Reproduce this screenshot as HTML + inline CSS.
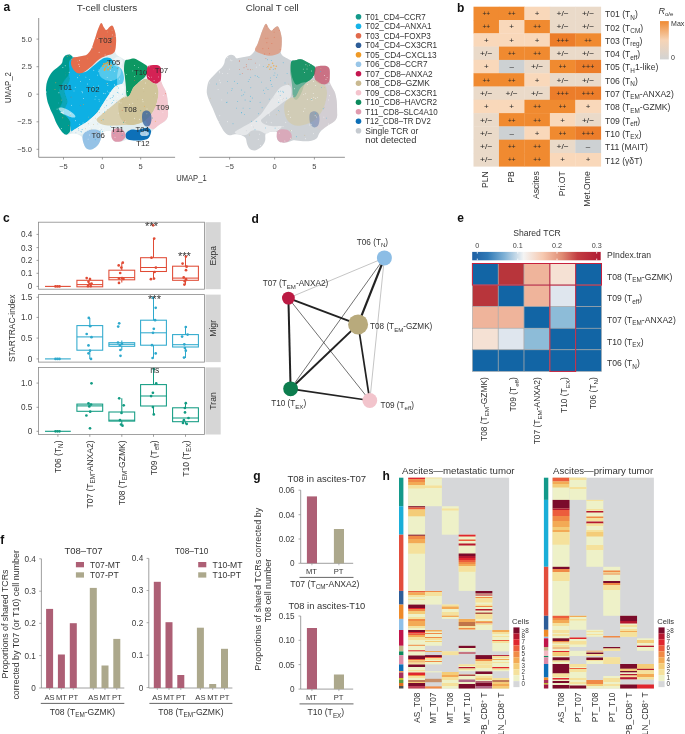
<!DOCTYPE html>
<html><head><meta charset="utf-8"><style>
html,body{margin:0;padding:0;background:#fff;}
svg{display:block;will-change:transform;font-family:"Liberation Sans", sans-serif;}
</style></head><body>
<svg width="685" height="734" viewBox="0 0 685 734">
<rect width="685" height="734" fill="#fff"/>
<text x="3.4" y="10.6" font-size="12" fill="#111" font-weight="bold">a</text>
<text x="457.1" y="11.9" font-size="12" fill="#111" font-weight="bold">b</text>
<text x="3.1" y="222" font-size="12" fill="#111" font-weight="bold">c</text>
<text x="251.6" y="222.7" font-size="12" fill="#111" font-weight="bold">d</text>
<text x="457.3" y="222.2" font-size="12" fill="#111" font-weight="bold">e</text>
<text x="0.3" y="544.1" font-size="12" fill="#111" font-weight="bold">f</text>
<text x="253.2" y="479.6" font-size="12" fill="#111" font-weight="bold">g</text>
<text x="382.4" y="479.9" font-size="12" fill="#111" font-weight="bold">h</text>
<defs><filter id="bl" x="-5%" y="-5%" width="110%" height="110%"><feGaussianBlur stdDeviation="0.55"/></filter></defs>
<g filter="url(#bl)">
<path d="M45.8,92.0 C45.5,89.3 46.0,86.2 46.5,84.0 C47.0,81.8 47.6,80.5 48.5,79.0 C49.4,77.5 50.8,76.4 52.0,75.0 C53.2,73.6 54.7,71.9 56.0,70.5 C57.3,69.1 59.0,67.8 60.0,66.5 C61.0,65.2 61.7,63.8 62.2,62.5 C62.7,61.2 62.5,59.7 63.0,58.5 C63.5,57.3 64.6,56.0 65.5,55.2 C66.4,54.5 67.6,54.0 68.6,54.0 C69.6,54.0 70.7,54.4 71.5,55.0 C72.3,55.6 72.6,57.2 73.5,57.5 C74.4,57.8 75.6,57.2 77.0,57.0 C78.4,56.8 80.3,56.4 82.0,56.0 C83.7,55.6 85.5,55.6 87.0,54.5 C88.5,53.4 89.9,51.4 91.0,49.5 C92.1,47.6 92.7,45.3 93.5,43.0 C94.3,40.7 95.2,38.0 96.0,35.5 C96.8,33.0 97.6,30.1 98.5,28.0 C99.4,25.9 100.4,23.0 101.3,22.9 C102.2,22.8 103.1,26.3 104.0,27.5 C104.9,28.7 105.7,30.1 106.6,30.0 C107.5,29.9 108.5,27.7 109.5,27.0 C110.5,26.3 111.6,25.2 112.4,25.7 C113.2,26.2 113.9,28.1 114.5,30.0 C115.1,31.9 115.8,34.7 116.0,37.0 C116.2,39.3 116.2,41.7 116.0,44.0 C115.8,46.3 114.8,49.2 115.0,51.0 C115.2,52.8 116.0,53.9 117.0,55.0 C118.0,56.1 119.5,56.7 121.0,57.5 C122.5,58.3 124.3,59.8 126.0,60.0 C127.7,60.2 129.7,59.2 131.0,59.0 C132.3,58.8 132.9,58.3 134.0,58.5 C135.1,58.7 136.3,59.4 137.5,60.0 C138.7,60.6 139.8,61.2 141.0,62.0 C142.2,62.8 143.8,63.8 145.0,64.5 C146.2,65.2 146.7,65.9 148.0,66.0 C149.3,66.1 151.3,65.1 153.0,65.0 C154.7,64.9 156.7,64.8 158.0,65.3 C159.3,65.8 160.3,66.4 160.8,68.0 C161.3,69.6 161.2,72.8 161.2,75.0 C161.2,77.2 160.7,79.2 161.0,81.0 C161.3,82.8 162.2,84.2 163.0,86.0 C163.8,87.8 165.2,89.7 166.0,92.0 C166.8,94.3 167.3,97.0 167.6,100.0 C167.9,103.0 168.0,107.2 168.0,110.0 C168.0,112.8 168.3,114.7 167.8,116.5 C167.3,118.3 166.5,119.6 165.0,121.0 C163.5,122.4 160.8,123.7 159.0,125.0 C157.2,126.3 155.3,127.7 154.0,129.0 C152.7,130.3 151.8,131.6 151.0,133.0 C150.2,134.4 150.2,136.3 149.0,137.5 C147.8,138.7 146.2,139.5 144.0,140.0 C141.8,140.5 138.7,140.6 136.0,140.5 C133.3,140.4 129.8,139.6 128.0,139.5 C126.2,139.4 126.8,139.6 125.5,140.0 C124.2,140.4 121.9,141.6 120.0,141.8 C118.1,142.0 115.4,141.8 114.0,141.0 C112.6,140.2 111.9,138.6 111.5,137.0 C111.1,135.4 112.4,132.5 111.5,131.5 C110.6,130.5 107.8,130.8 106.0,131.0 C104.2,131.2 101.9,131.5 101.0,133.0 C100.1,134.5 101.2,137.8 100.5,140.0 C99.8,142.2 98.6,144.4 97.0,146.0 C95.4,147.6 92.8,149.3 91.0,149.6 C89.2,149.9 87.2,149.1 86.0,148.0 C84.8,146.9 84.2,144.8 83.5,143.0 C82.8,141.2 83.1,138.5 82.0,137.0 C80.9,135.5 78.7,134.6 77.0,134.0 C75.3,133.4 73.7,133.4 72.0,133.5 C70.3,133.6 68.5,134.8 67.0,134.5 C65.5,134.2 64.3,133.5 63.0,132.0 C61.7,130.5 60.3,128.0 59.0,125.5 C57.7,123.0 56.2,119.9 55.0,117.0 C53.8,114.1 52.7,110.8 51.5,108.0 C50.3,105.2 49.0,102.7 48.0,100.0 C47.0,97.3 46.0,94.7 45.8,92.0Z" fill="#dfecef"/>
<path d="M72.7,57.4 C74.0,57.1 75.1,57.9 76.0,60.0 C76.9,62.1 76.5,68.0 78.0,70.0 C79.5,72.0 82.7,72.5 85.0,72.0 C87.3,71.5 89.8,68.7 92.0,67.0 C94.2,65.3 96.0,63.5 98.0,62.0 C100.0,60.5 102.0,58.7 104.0,58.0 C106.0,57.3 108.3,57.3 110.0,58.0 C111.7,58.7 112.7,60.7 114.0,62.0 C115.3,63.3 116.7,64.7 118.0,66.0 C119.3,67.3 121.0,68.0 122.0,70.0 C123.0,72.0 124.0,75.7 124.0,78.0 C124.0,80.3 123.3,82.7 122.0,84.0 C120.7,85.3 117.7,85.0 116.0,86.0 C114.3,87.0 113.2,88.5 112.0,90.0 C110.8,91.5 109.7,93.5 108.5,95.3 C107.3,97.0 106.3,98.5 105.0,100.5 C103.7,102.5 102.0,105.3 100.6,107.5 C99.1,109.7 98.5,111.3 96.3,113.6 C94.1,115.9 90.4,119.3 87.5,121.5 C84.6,123.7 81.4,125.1 78.8,126.8 C76.2,128.5 73.5,131.6 72.0,131.5 C70.5,131.4 71.3,128.9 70.0,126.0 C68.7,123.1 66.0,117.0 64.0,114.0 C62.0,111.0 59.0,110.3 58.0,108.0 C57.0,105.7 58.0,103.0 58.0,100.0 C58.0,97.0 57.7,93.0 58.0,90.0 C58.3,87.0 59.2,84.5 60.0,82.0 C60.8,79.5 62.0,77.7 63.0,75.0 C64.0,72.3 65.1,68.2 66.0,66.0 C66.9,63.8 67.3,63.4 68.4,62.0 C69.5,60.6 71.4,57.7 72.7,57.4Z" fill="#0ab0e4"/>
<path d="M72.0,131.5 C72.3,130.3 76.2,128.5 78.8,126.8 C81.4,125.1 84.6,123.7 87.5,121.5 C90.4,119.3 94.1,115.9 96.3,113.6 C98.5,111.3 99.1,109.7 100.6,107.5 C102.0,105.3 103.7,102.5 105.0,100.5 C106.3,98.5 107.3,97.0 108.5,95.3 C109.7,93.5 110.8,91.5 112.0,90.0 C113.2,88.5 114.3,87.0 116.0,86.0 C117.7,85.0 120.5,83.7 122.0,84.0 C123.5,84.3 124.7,85.8 125.0,88.0 C125.3,90.2 125.2,94.8 124.0,97.0 C122.8,99.2 120.0,99.5 118.0,101.0 C116.0,102.5 114.0,104.3 112.0,106.0 C110.0,107.7 108.0,109.3 106.0,111.0 C104.0,112.7 101.6,114.5 100.0,116.0 C98.4,117.5 96.3,118.7 96.5,120.0 C96.7,121.3 99.1,123.1 101.0,124.0 C102.9,124.9 105.5,125.2 108.0,125.5 C110.5,125.8 115.3,124.8 116.0,125.5 C116.7,126.2 113.7,129.1 112.0,130.0 C110.3,130.9 107.8,130.5 106.0,131.0 C104.2,131.5 102.8,133.2 101.0,133.0 C99.2,132.8 97.2,130.5 95.0,130.0 C92.8,129.5 90.0,129.3 88.0,130.0 C86.0,130.7 84.8,133.3 83.0,134.0 C81.2,134.7 78.8,134.4 77.0,134.0 C75.2,133.6 71.7,132.7 72.0,131.5Z" fill="#ecf4f5"/>
<path d="M68.4,75.0 C70.0,75.8 69.8,78.9 69.5,80.7 C69.2,82.5 67.3,84.4 66.5,86.0 C65.7,87.6 64.6,88.8 64.5,90.5 C64.4,92.2 65.3,94.2 65.8,96.0 C66.3,97.8 67.5,99.7 67.5,101.5 C67.5,103.3 66.2,105.4 65.5,107.0 C64.8,108.6 65.1,110.3 63.5,111.0 C61.9,111.7 57.6,114.5 56.0,111.0 C54.4,107.5 53.3,95.8 54.0,90.0 C54.7,84.2 57.6,78.5 60.0,76.0 C62.4,73.5 66.8,74.2 68.4,75.0Z" fill="#07a6b8"/>
<path d="M65.3,55.5 C64.4,56.2 63.5,57.8 63.0,59.0 C62.5,60.2 62.8,61.7 62.0,63.0 C61.2,64.3 59.5,65.7 58.0,67.0 C56.5,68.3 54.3,69.7 53.0,71.0 C51.7,72.3 50.8,73.7 50.0,75.0 C49.2,76.3 48.6,77.5 48.0,79.0 C47.4,80.5 46.8,82.2 46.5,84.0 C46.2,85.8 46.0,88.0 46.0,90.0 C46.0,92.0 46.2,94.1 46.5,96.0 C46.8,97.9 47.0,99.7 47.5,101.5 C48.0,103.3 48.9,105.4 49.5,107.0 C50.1,108.6 50.5,109.8 51.2,111.3 C51.9,112.8 52.8,114.3 53.5,116.0 C54.2,117.7 54.8,119.5 55.5,121.2 C56.2,122.9 57.2,124.6 58.0,126.0 C58.8,127.4 59.6,128.6 60.4,129.8 C61.2,131.0 62.0,132.2 63.0,133.0 C64.0,133.8 65.3,135.0 66.5,134.7 C67.7,134.4 69.6,132.6 70.2,131.0 C70.8,129.4 70.2,126.6 70.2,125.0 C70.2,123.4 70.7,122.7 70.0,121.2 C69.3,119.7 67.8,117.7 66.0,116.0 C64.2,114.3 60.2,112.8 59.2,111.3 C58.2,109.8 59.5,108.6 60.0,107.0 C60.5,105.4 62.1,103.3 62.2,101.5 C62.3,99.7 61.0,97.8 60.5,96.0 C60.0,94.2 59.1,92.2 59.2,90.5 C59.3,88.8 60.2,87.6 61.0,86.0 C61.8,84.4 62.8,82.5 64.0,80.7 C65.2,78.9 67.5,76.8 68.4,75.0 C69.3,73.2 69.4,71.7 69.5,70.0 C69.6,68.3 69.0,66.5 69.0,65.0 C69.0,63.5 68.9,62.3 69.5,61.0 C70.1,59.7 72.5,58.4 72.7,57.4 C72.9,56.4 71.2,55.5 70.5,55.0 C69.8,54.5 69.3,54.6 68.4,54.7 C67.5,54.8 66.2,54.8 65.3,55.5Z" fill="#069b90"/>
<path d="M71.5,60.0 C71.9,58.9 72.6,58.0 73.5,57.5 C74.4,57.0 75.6,57.2 77.0,57.0 C78.4,56.8 80.3,56.4 82.0,56.0 C83.7,55.6 85.5,55.6 87.0,54.5 C88.5,53.4 89.9,51.4 91.0,49.5 C92.1,47.6 92.7,45.3 93.5,43.0 C94.3,40.7 95.2,38.0 96.0,35.5 C96.8,33.0 97.6,30.1 98.5,28.0 C99.4,25.9 100.4,23.0 101.3,22.9 C102.2,22.8 103.1,26.3 104.0,27.5 C104.9,28.7 105.7,30.1 106.6,30.0 C107.5,29.9 108.5,27.7 109.5,27.0 C110.5,26.3 111.6,25.2 112.4,25.7 C113.2,26.2 113.9,28.1 114.5,30.0 C115.1,31.9 115.8,34.7 116.0,37.0 C116.2,39.3 116.2,41.7 116.0,44.0 C115.8,46.3 115.7,49.3 115.0,51.0 C114.3,52.7 113.3,53.2 112.0,54.0 C110.7,54.8 108.7,54.9 107.0,55.5 C105.3,56.1 103.7,56.6 102.0,57.5 C100.3,58.4 98.7,59.6 97.0,61.0 C95.3,62.4 93.7,64.5 92.0,66.0 C90.3,67.5 88.7,68.8 87.0,70.0 C85.3,71.2 83.7,72.5 82.0,73.0 C80.3,73.5 78.5,73.7 77.0,73.0 C75.5,72.3 74.0,70.5 73.0,69.0 C72.0,67.5 71.2,65.5 71.0,64.0 C70.8,62.5 71.1,61.1 71.5,60.0Z" fill="#e46d4e"/>
<path d="M125.0,61.0 C125.8,59.2 127.5,59.9 129.0,59.5 C130.5,59.1 132.6,58.4 134.0,58.5 C135.4,58.6 136.3,59.4 137.5,60.0 C138.7,60.6 139.8,61.2 141.0,62.0 C142.2,62.8 143.9,63.7 145.0,64.5 C146.1,65.3 147.2,65.6 147.5,67.0 C147.8,68.4 147.6,71.2 147.0,73.0 C146.4,74.8 145.2,76.7 144.0,78.0 C142.8,79.3 141.2,79.8 140.0,81.0 C138.8,82.2 137.8,83.3 137.0,85.0 C136.2,86.7 135.8,89.0 135.0,91.0 C134.2,93.0 133.0,95.7 132.0,97.0 C131.0,98.3 129.9,99.3 129.0,99.0 C128.1,98.7 127.0,97.0 126.5,95.0 C126.0,93.0 126.2,89.8 126.0,87.0 C125.8,84.2 125.3,80.8 125.0,78.0 C124.7,75.2 124.0,72.8 124.0,70.0 C124.0,67.2 124.2,62.8 125.0,61.0Z" fill="#0a9862"/>
<path d="M147.5,67.0 C148.1,65.6 149.1,65.8 150.0,65.5 C150.9,65.2 151.7,65.0 153.0,65.0 C154.3,65.0 156.7,64.8 158.0,65.3 C159.3,65.8 160.3,66.4 160.8,68.0 C161.3,69.6 161.2,72.8 161.2,75.0 C161.1,77.2 161.1,79.6 160.5,81.0 C159.9,82.4 158.9,83.2 157.5,83.5 C156.1,83.8 153.6,83.6 152.0,83.0 C150.4,82.4 148.9,81.5 148.0,80.0 C147.1,78.5 146.6,76.2 146.5,74.0 C146.4,71.8 146.9,68.4 147.5,67.0Z" fill="#d42054"/>
<path d="M133.0,88.0 C134.3,86.0 135.7,85.2 137.0,84.0 C138.3,82.8 139.7,81.8 141.0,81.0 C142.3,80.2 143.7,79.2 145.0,79.0 C146.3,78.8 147.7,79.3 149.0,80.0 C150.3,80.7 151.7,82.2 153.0,83.0 C154.3,83.8 156.1,83.5 157.0,85.0 C157.9,86.5 158.5,89.2 158.5,92.0 C158.5,94.8 157.8,99.0 157.0,102.0 C156.2,105.0 155.2,107.7 154.0,110.0 C152.8,112.3 151.3,114.3 150.0,116.0 C148.7,117.7 147.8,118.8 146.0,120.0 C144.2,121.2 141.5,122.7 139.0,123.5 C136.5,124.3 133.5,124.8 131.0,125.0 C128.5,125.2 126.5,124.9 124.0,125.0 C121.5,125.1 118.7,125.4 116.0,125.5 C113.3,125.6 110.5,125.8 108.0,125.5 C105.5,125.2 102.9,124.9 101.0,124.0 C99.1,123.1 96.7,121.3 96.5,120.0 C96.3,118.7 98.4,117.5 100.0,116.0 C101.6,114.5 104.0,112.7 106.0,111.0 C108.0,109.3 110.0,107.7 112.0,106.0 C114.0,104.3 116.0,102.5 118.0,101.0 C120.0,99.5 122.2,97.8 124.0,97.0 C125.8,96.2 127.5,97.5 129.0,96.0 C130.5,94.5 131.7,90.0 133.0,88.0Z" fill="#d8cfae"/>
<path d="M133.0,88.0 C134.3,86.0 135.7,85.2 137.0,84.0 C138.3,82.8 139.7,81.8 141.0,81.0 C142.3,80.2 143.7,79.2 145.0,79.0 C146.3,78.8 147.7,79.3 149.0,80.0 C150.3,80.7 151.7,82.2 153.0,83.0 C154.3,83.8 156.1,83.5 157.0,85.0 C157.9,86.5 158.5,89.2 158.5,92.0 C158.5,94.8 157.8,99.0 157.0,102.0 C156.2,105.0 155.2,107.7 154.0,110.0 C152.8,112.3 151.3,114.3 150.0,116.0 C148.7,117.7 147.8,118.8 146.0,120.0 C144.2,121.2 141.5,122.7 139.0,123.5 C136.5,124.3 133.3,125.1 131.0,125.0 C128.7,124.9 126.8,124.2 125.0,123.0 C123.2,121.8 121.6,120.2 120.5,118.0 C119.4,115.8 118.8,112.7 118.5,110.0 C118.2,107.3 118.1,104.2 119.0,102.0 C119.9,99.8 122.3,98.0 124.0,97.0 C125.7,96.0 127.5,97.5 129.0,96.0 C130.5,94.5 131.7,90.0 133.0,88.0Z" fill="#cfc49a"/>
<path d="M157.0,84.5 C157.3,82.7 159.8,81.6 160.5,81.0 C161.2,80.4 160.6,80.2 161.0,81.0 C161.4,81.8 162.2,84.2 163.0,86.0 C163.8,87.8 165.2,89.7 166.0,92.0 C166.8,94.3 167.3,97.0 167.6,100.0 C167.9,103.0 168.0,107.2 168.0,110.0 C168.0,112.8 168.3,114.7 167.8,116.5 C167.3,118.3 166.5,119.6 165.0,121.0 C163.5,122.4 160.8,123.7 159.0,125.0 C157.2,126.3 155.5,128.5 154.0,129.0 C152.5,129.5 151.2,128.8 150.0,128.0 C148.8,127.2 147.7,125.3 147.0,124.0 C146.3,122.7 145.5,121.3 146.0,120.0 C146.5,118.7 148.7,117.7 150.0,116.0 C151.3,114.3 152.8,112.3 154.0,110.0 C155.2,107.7 156.2,105.0 157.0,102.0 C157.8,99.0 158.5,94.9 158.5,92.0 C158.5,89.1 156.7,86.3 157.0,84.5Z" fill="#f4c8d0"/>
<path d="M143.0,112.0 C143.8,110.9 145.8,110.3 147.0,110.5 C148.2,110.7 149.8,111.6 150.5,113.0 C151.2,114.4 151.6,117.0 151.5,119.0 C151.4,121.0 150.9,123.8 150.0,125.0 C149.1,126.2 147.2,126.8 146.0,126.5 C144.8,126.2 143.7,124.6 143.0,123.0 C142.3,121.4 142.0,118.8 142.0,117.0 C142.0,115.2 142.2,113.1 143.0,112.0Z" fill="#2e5e9c" opacity="0.75"/>
<path d="M127.0,132.0 C128.1,130.9 130.2,129.8 132.0,129.5 C133.8,129.2 136.2,130.2 138.0,130.0 C139.8,129.8 141.3,128.8 143.0,128.5 C144.7,128.2 146.7,127.6 148.0,128.0 C149.3,128.4 150.8,129.4 151.0,131.0 C151.2,132.6 150.2,136.0 149.0,137.5 C147.8,139.0 146.2,139.5 144.0,140.0 C141.8,140.5 138.7,140.6 136.0,140.5 C133.3,140.4 129.8,140.2 128.0,139.5 C126.2,138.8 125.7,137.2 125.5,136.0 C125.3,134.8 125.9,133.1 127.0,132.0Z" fill="#0c70b8"/>
<path d="M112.0,130.5 C112.8,129.1 114.5,128.8 116.0,128.5 C117.5,128.2 119.6,128.4 121.0,129.0 C122.4,129.6 123.8,130.8 124.5,132.0 C125.2,133.2 125.8,135.2 125.5,136.5 C125.2,137.8 124.1,139.1 123.0,140.0 C121.9,140.9 120.5,141.6 119.0,141.8 C117.5,142.0 115.2,141.8 114.0,141.0 C112.8,140.2 111.8,138.8 111.5,137.0 C111.2,135.2 111.2,131.9 112.0,130.5Z" fill="#de98ac"/>
<path d="M83.5,134.0 C84.4,132.8 86.2,131.2 88.0,130.5 C89.8,129.8 92.2,129.5 94.0,129.5 C95.8,129.5 97.8,129.8 99.0,130.5 C100.2,131.2 100.8,132.4 101.0,134.0 C101.2,135.6 101.2,138.0 100.5,140.0 C99.8,142.0 98.6,144.4 97.0,146.0 C95.4,147.6 92.8,149.3 91.0,149.6 C89.2,149.9 87.2,149.1 86.0,148.0 C84.8,146.9 84.1,144.7 83.5,143.0 C82.9,141.3 82.5,139.5 82.5,138.0 C82.5,136.5 82.6,135.2 83.5,134.0Z" fill="#95c2e6"/>
<ellipse cx="67" cy="112.5" rx="9.5" ry="2.8" fill="#fff" opacity="0.6" transform="rotate(28 67 112.5)"/>
<ellipse cx="110" cy="72" rx="11" ry="9" fill="#fff" opacity="0.3"/>
<ellipse cx="121" cy="80" rx="4" ry="14" fill="#fff" opacity="0.35"/>
<circle cx="104" cy="64" r="0.9" fill="#eda43a"/>
<circle cx="106" cy="66.5" r="0.9" fill="#eda43a"/>
<circle cx="108.5" cy="65" r="0.9" fill="#eda43a"/>
<circle cx="110" cy="68" r="0.9" fill="#eda43a"/>
<circle cx="105" cy="68.5" r="0.9" fill="#eda43a"/>
<circle cx="107.5" cy="62.5" r="0.9" fill="#eda43a"/>
<circle cx="111" cy="65.5" r="0.9" fill="#eda43a"/>
<circle cx="103" cy="66" r="0.9" fill="#eda43a"/>
<circle cx="108" cy="69.5" r="0.9" fill="#eda43a"/>
<circle cx="106" cy="63.5" r="0.9" fill="#eda43a"/>
<circle cx="109.5" cy="63" r="0.9" fill="#eda43a"/>
<circle cx="104.5" cy="70" r="0.9" fill="#eda43a"/>
<ellipse cx="118" cy="62" rx="5" ry="5" fill="#fff" opacity="0.45"/>
<ellipse cx="144.5" cy="133.5" rx="4.5" ry="2.6" fill="#fff" opacity="0.65"/>
<circle cx="119.5" cy="102.1" r="0.45" fill="#ffffff"/><circle cx="117.9" cy="60.6" r="0.45" fill="#ffffff"/><circle cx="93.4" cy="124.5" r="0.45" fill="#cbbb8e"/><circle cx="167.9" cy="107.9" r="0.45" fill="#e2684a"/><circle cx="144.1" cy="74.5" r="0.45" fill="#e2684a"/><circle cx="97.4" cy="75.1" r="0.45" fill="#ffffff"/><circle cx="117.3" cy="92.5" r="0.45" fill="#1db1e6"/><circle cx="109.1" cy="92.2" r="0.45" fill="#ffffff"/><circle cx="95.9" cy="96.2" r="0.45" fill="#ffffff"/><circle cx="121.0" cy="102.9" r="0.45" fill="#ffffff"/><circle cx="91.1" cy="120.9" r="0.45" fill="#ffffff"/><circle cx="106.5" cy="105.7" r="0.45" fill="#1db1e6"/><circle cx="85.7" cy="128.7" r="0.45" fill="#cbbb8e"/><circle cx="86.5" cy="128.0" r="0.45" fill="#ffffff"/><circle cx="95.2" cy="139.8" r="0.45" fill="#1db1e6"/><circle cx="103.7" cy="128.6" r="0.45" fill="#ffffff"/><circle cx="110.8" cy="126.6" r="0.45" fill="#1db1e6"/><circle cx="122.6" cy="132.4" r="0.45" fill="#ffffff"/><circle cx="117.3" cy="68.2" r="0.45" fill="#e2684a"/><circle cx="97.6" cy="38.3" r="0.45" fill="#ffffff"/><circle cx="111.7" cy="103.5" r="0.45" fill="#95c2e6"/><circle cx="113.9" cy="133.4" r="0.45" fill="#1db1e6"/><circle cx="110.3" cy="70.2" r="0.45" fill="#ffffff"/><circle cx="86.7" cy="131.1" r="0.45" fill="#ffffff"/><circle cx="79.6" cy="60.3" r="0.45" fill="#ffffff"/><circle cx="159.5" cy="109.8" r="0.45" fill="#14998a"/><circle cx="67.3" cy="56.2" r="0.45" fill="#eba33a"/><circle cx="141.9" cy="134.9" r="0.45" fill="#ffffff"/><circle cx="125.0" cy="121.5" r="0.45" fill="#ffffff"/><circle cx="155.3" cy="121.3" r="0.45" fill="#eba33a"/><circle cx="75.9" cy="132.7" r="0.45" fill="#95c2e6"/><circle cx="114.8" cy="89.3" r="0.45" fill="#ffffff"/><circle cx="155.2" cy="105.9" r="0.45" fill="#eba33a"/><circle cx="118.7" cy="93.0" r="0.45" fill="#95c2e6"/><circle cx="113.2" cy="95.7" r="0.45" fill="#1db1e6"/><circle cx="88.1" cy="130.4" r="0.45" fill="#ffffff"/><circle cx="96.1" cy="117.1" r="0.45" fill="#ffffff"/><circle cx="143.8" cy="91.7" r="0.45" fill="#cbbb8e"/><circle cx="143.0" cy="101.8" r="0.45" fill="#ffffff"/><circle cx="110.2" cy="98.3" r="0.45" fill="#1db1e6"/><circle cx="117.1" cy="86.5" r="0.45" fill="#cbbb8e"/><circle cx="105.3" cy="29.6" r="0.45" fill="#ffffff"/><circle cx="55.8" cy="82.7" r="0.45" fill="#eba33a"/><circle cx="105.1" cy="93.8" r="0.45" fill="#ffffff"/><circle cx="57.1" cy="109.1" r="0.45" fill="#ffffff"/><circle cx="106.9" cy="83.7" r="0.45" fill="#eba33a"/><circle cx="63.2" cy="113.0" r="0.45" fill="#ffffff"/><circle cx="115.1" cy="36.1" r="0.45" fill="#ffffff"/><circle cx="124.6" cy="97.0" r="0.45" fill="#ffffff"/><circle cx="110.9" cy="46.1" r="0.45" fill="#1db1e6"/><circle cx="118.8" cy="131.9" r="0.45" fill="#ffffff"/><circle cx="104.7" cy="107.6" r="0.45" fill="#95c2e6"/><circle cx="119.4" cy="79.0" r="0.45" fill="#ffffff"/><circle cx="87.3" cy="84.0" r="0.45" fill="#ffffff"/><circle cx="85.9" cy="77.1" r="0.45" fill="#ffffff"/><circle cx="153.5" cy="69.7" r="0.45" fill="#e2684a"/><circle cx="134.4" cy="65.5" r="0.45" fill="#ffffff"/><circle cx="95.6" cy="118.1" r="0.45" fill="#cbbb8e"/><circle cx="102.4" cy="107.2" r="0.45" fill="#ffffff"/><circle cx="61.4" cy="128.5" r="0.45" fill="#ffffff"/><circle cx="83.6" cy="98.5" r="0.45" fill="#ffffff"/><circle cx="77.5" cy="77.7" r="0.45" fill="#ffffff"/><circle cx="58.4" cy="102.9" r="0.45" fill="#1db1e6"/><circle cx="65.8" cy="84.3" r="0.45" fill="#cbbb8e"/><circle cx="146.8" cy="134.0" r="0.45" fill="#ffffff"/><circle cx="88.1" cy="139.1" r="0.45" fill="#ffffff"/><circle cx="104.6" cy="112.0" r="0.45" fill="#1db1e6"/><circle cx="81.6" cy="131.9" r="0.45" fill="#1db1e6"/><circle cx="95.2" cy="133.7" r="0.45" fill="#ffffff"/><circle cx="99.2" cy="101.1" r="0.45" fill="#ffffff"/><circle cx="153.4" cy="96.8" r="0.45" fill="#cbbb8e"/><circle cx="70.1" cy="77.7" r="0.45" fill="#1db1e6"/><circle cx="99.2" cy="109.4" r="0.45" fill="#14998a"/><circle cx="82.3" cy="92.7" r="0.45" fill="#ffffff"/><circle cx="97.8" cy="123.9" r="0.45" fill="#95c2e6"/><circle cx="69.2" cy="72.2" r="0.45" fill="#ffffff"/><circle cx="102.6" cy="131.7" r="0.45" fill="#1db1e6"/><circle cx="117.5" cy="96.5" r="0.45" fill="#ffffff"/><circle cx="93.6" cy="49.1" r="0.45" fill="#1db1e6"/><circle cx="79.6" cy="66.2" r="0.45" fill="#ffffff"/><circle cx="111.0" cy="80.5" r="0.45" fill="#ffffff"/><circle cx="96.4" cy="132.6" r="0.45" fill="#e2684a"/><circle cx="114.3" cy="71.3" r="0.45" fill="#ffffff"/><circle cx="65.6" cy="72.5" r="0.45" fill="#14998a"/><circle cx="119.8" cy="111.8" r="0.45" fill="#cbbb8e"/><circle cx="58.9" cy="92.7" r="0.45" fill="#ffffff"/><circle cx="122.5" cy="94.1" r="0.45" fill="#1db1e6"/><circle cx="122.1" cy="135.2" r="0.45" fill="#1db1e6"/><circle cx="99.1" cy="52.3" r="0.45" fill="#ffffff"/><circle cx="107.5" cy="83.4" r="0.45" fill="#ffffff"/><circle cx="81.6" cy="131.4" r="0.45" fill="#95c2e6"/><circle cx="117.1" cy="100.2" r="0.45" fill="#cbbb8e"/><circle cx="89.6" cy="126.5" r="0.45" fill="#ffffff"/><circle cx="92.9" cy="89.3" r="0.45" fill="#cbbb8e"/><circle cx="113.8" cy="100.4" r="0.45" fill="#1db1e6"/><circle cx="80.6" cy="131.5" r="0.45" fill="#95c2e6"/><circle cx="122.3" cy="87.8" r="0.45" fill="#ffffff"/><circle cx="111.8" cy="93.7" r="0.45" fill="#ffffff"/><circle cx="96.7" cy="121.0" r="0.45" fill="#ffffff"/><circle cx="137.4" cy="99.8" r="0.45" fill="#cbbb8e"/><circle cx="152.9" cy="66.0" r="0.45" fill="#e2684a"/><circle cx="155.5" cy="93.2" r="0.45" fill="#ffffff"/><circle cx="99.3" cy="112.5" r="0.45" fill="#cbbb8e"/><circle cx="104.3" cy="37.4" r="0.45" fill="#14998a"/><circle cx="78.8" cy="130.5" r="0.45" fill="#95c2e6"/><circle cx="103.1" cy="113.6" r="0.45" fill="#eba33a"/><circle cx="70.3" cy="113.6" r="0.45" fill="#ffffff"/><circle cx="71.1" cy="97.1" r="0.45" fill="#e2684a"/><circle cx="69.3" cy="55.6" r="0.45" fill="#eba33a"/><circle cx="123.6" cy="122.2" r="0.45" fill="#14998a"/><circle cx="108.9" cy="65.9" r="0.45" fill="#ffffff"/><circle cx="132.8" cy="103.2" r="0.45" fill="#ffffff"/><circle cx="77.4" cy="61.1" r="0.45" fill="#cbbb8e"/><circle cx="124.7" cy="121.0" r="0.45" fill="#e2684a"/><circle cx="121.9" cy="96.8" r="0.45" fill="#ffffff"/><circle cx="88.6" cy="117.1" r="0.45" fill="#cbbb8e"/><circle cx="92.1" cy="89.0" r="0.45" fill="#eba33a"/><circle cx="139.5" cy="119.3" r="0.45" fill="#ffffff"/><circle cx="114.6" cy="84.4" r="0.45" fill="#ffffff"/><circle cx="83.3" cy="126.2" r="0.45" fill="#ffffff"/><circle cx="75.6" cy="120.7" r="0.45" fill="#ffffff"/><circle cx="116.4" cy="102.2" r="0.45" fill="#95c2e6"/><circle cx="88.4" cy="90.3" r="0.45" fill="#ffffff"/><circle cx="93.3" cy="86.4" r="0.45" fill="#ffffff"/><circle cx="128.2" cy="130.5" r="0.45" fill="#cbbb8e"/><circle cx="154.6" cy="86.0" r="0.45" fill="#cbbb8e"/><circle cx="122.2" cy="99.5" r="0.45" fill="#eba33a"/><circle cx="95.0" cy="99.1" r="0.45" fill="#ffffff"/><circle cx="112.3" cy="102.4" r="0.45" fill="#1db1e6"/><circle cx="121.1" cy="62.4" r="0.45" fill="#ffffff"/><circle cx="151.7" cy="77.1" r="0.45" fill="#ffffff"/><circle cx="129.4" cy="104.5" r="0.45" fill="#ffffff"/><circle cx="78.9" cy="64.2" r="0.45" fill="#ffffff"/><circle cx="93.8" cy="70.2" r="0.45" fill="#ffffff"/><circle cx="98.4" cy="86.0" r="0.45" fill="#ffffff"/><circle cx="83.1" cy="123.0" r="0.45" fill="#ffffff"/><circle cx="91.7" cy="129.1" r="0.45" fill="#cbbb8e"/><circle cx="113.3" cy="102.0" r="0.45" fill="#ffffff"/><circle cx="83.5" cy="104.3" r="0.45" fill="#eba33a"/><circle cx="115.0" cy="137.3" r="0.45" fill="#ffffff"/><circle cx="145.3" cy="83.0" r="0.45" fill="#ffffff"/><circle cx="118.4" cy="88.0" r="0.45" fill="#1db1e6"/><circle cx="97.1" cy="112.9" r="0.45" fill="#cbbb8e"/><circle cx="79.7" cy="124.2" r="0.45" fill="#ffffff"/><circle cx="55.0" cy="89.5" r="0.45" fill="#eba33a"/><circle cx="142.5" cy="99.8" r="0.45" fill="#ffffff"/><circle cx="123.8" cy="87.9" r="0.45" fill="#ffffff"/><circle cx="99.0" cy="70.0" r="0.45" fill="#ffffff"/><circle cx="161.5" cy="105.5" r="0.45" fill="#cbbb8e"/><circle cx="103.5" cy="93.3" r="0.45" fill="#ffffff"/><circle cx="148.6" cy="76.3" r="0.45" fill="#ffffff"/><circle cx="162.9" cy="112.1" r="0.45" fill="#ffffff"/><circle cx="101.5" cy="129.4" r="0.45" fill="#95c2e6"/><circle cx="112.2" cy="97.5" r="0.45" fill="#1db1e6"/><circle cx="68.4" cy="125.4" r="0.45" fill="#e2684a"/><circle cx="154.1" cy="80.7" r="0.45" fill="#ffffff"/><circle cx="100.5" cy="130.9" r="0.45" fill="#1db1e6"/><circle cx="80.6" cy="81.6" r="0.45" fill="#ffffff"/><circle cx="76.0" cy="127.7" r="0.45" fill="#1db1e6"/><circle cx="99.5" cy="128.2" r="0.45" fill="#ffffff"/><circle cx="158.4" cy="76.9" r="0.45" fill="#ffffff"/><circle cx="134.6" cy="80.4" r="0.45" fill="#e2684a"/><circle cx="136.0" cy="120.8" r="0.45" fill="#cbbb8e"/><circle cx="107.5" cy="91.1" r="0.45" fill="#ffffff"/><circle cx="92.2" cy="47.7" r="0.45" fill="#ffffff"/><circle cx="134.6" cy="118.3" r="0.45" fill="#ffffff"/><circle cx="70.0" cy="115.7" r="0.45" fill="#eba33a"/><circle cx="112.3" cy="34.9" r="0.45" fill="#ffffff"/><circle cx="106.9" cy="100.4" r="0.45" fill="#95c2e6"/><circle cx="163.2" cy="95.5" r="0.45" fill="#ffffff"/><circle cx="107.5" cy="31.9" r="0.45" fill="#cbbb8e"/><circle cx="117.6" cy="100.8" r="0.45" fill="#ffffff"/><circle cx="107.4" cy="98.4" r="0.45" fill="#ffffff"/><circle cx="90.9" cy="121.0" r="0.45" fill="#ffffff"/><circle cx="107.2" cy="77.4" r="0.45" fill="#ffffff"/><circle cx="149.1" cy="66.7" r="0.45" fill="#ffffff"/><circle cx="94.5" cy="135.1" r="0.45" fill="#cbbb8e"/><circle cx="117.9" cy="94.7" r="0.45" fill="#ffffff"/><circle cx="101.3" cy="120.4" r="0.45" fill="#eba33a"/><circle cx="88.9" cy="111.9" r="0.45" fill="#1db1e6"/><circle cx="61.7" cy="100.1" r="0.45" fill="#cbbb8e"/><circle cx="107.3" cy="109.5" r="0.45" fill="#cbbb8e"/><circle cx="82.0" cy="91.3" r="0.45" fill="#ffffff"/><circle cx="71.7" cy="59.3" r="0.45" fill="#cbbb8e"/><circle cx="62.7" cy="117.8" r="0.45" fill="#eba33a"/><circle cx="105.1" cy="55.0" r="0.45" fill="#ffffff"/><circle cx="111.1" cy="96.4" r="0.45" fill="#ffffff"/><circle cx="80.3" cy="105.5" r="0.45" fill="#e2684a"/><circle cx="75.2" cy="87.2" r="0.45" fill="#ffffff"/><circle cx="144.6" cy="106.2" r="0.45" fill="#eba33a"/><circle cx="112.1" cy="30.3" r="0.45" fill="#cbbb8e"/><circle cx="146.4" cy="77.6" r="0.45" fill="#ffffff"/><circle cx="99.0" cy="99.6" r="0.45" fill="#ffffff"/><circle cx="114.9" cy="85.2" r="0.45" fill="#ffffff"/><circle cx="107.9" cy="85.5" r="0.45" fill="#ffffff"/><circle cx="132.7" cy="70.9" r="0.45" fill="#ffffff"/><circle cx="127.6" cy="91.5" r="0.45" fill="#ffffff"/><circle cx="118.2" cy="113.1" r="0.45" fill="#ffffff"/><circle cx="152.5" cy="118.0" r="0.45" fill="#14998a"/><circle cx="146.9" cy="113.8" r="0.45" fill="#cbbb8e"/><circle cx="89.7" cy="79.4" r="0.45" fill="#ffffff"/><circle cx="86.8" cy="79.6" r="0.45" fill="#1db1e6"/><circle cx="100.9" cy="125.1" r="0.45" fill="#ffffff"/><circle cx="99.9" cy="131.9" r="0.45" fill="#1db1e6"/><circle cx="103.5" cy="111.7" r="0.45" fill="#ffffff"/><circle cx="165.6" cy="93.7" r="0.45" fill="#e2684a"/><circle cx="122.2" cy="110.3" r="0.45" fill="#e2684a"/><circle cx="63.5" cy="111.1" r="0.45" fill="#ffffff"/><circle cx="65.6" cy="75.1" r="0.45" fill="#14998a"/><circle cx="138.5" cy="67.6" r="0.45" fill="#ffffff"/><circle cx="149.4" cy="77.6" r="0.45" fill="#ffffff"/><circle cx="92.0" cy="125.5" r="0.45" fill="#ffffff"/><circle cx="79.5" cy="75.5" r="0.45" fill="#eba33a"/><circle cx="112.4" cy="67.3" r="0.45" fill="#14998a"/><circle cx="92.8" cy="114.2" r="0.45" fill="#1db1e6"/><circle cx="147.0" cy="109.0" r="0.45" fill="#ffffff"/><circle cx="78.5" cy="128.8" r="0.45" fill="#1db1e6"/><circle cx="111.7" cy="38.4" r="0.45" fill="#14998a"/><circle cx="143.3" cy="88.4" r="0.45" fill="#ffffff"/><circle cx="145.8" cy="70.5" r="0.45" fill="#ffffff"/><circle cx="88.3" cy="123.8" r="0.45" fill="#cbbb8e"/><circle cx="86.7" cy="122.8" r="0.45" fill="#ffffff"/><circle cx="89.6" cy="135.0" r="0.45" fill="#ffffff"/><circle cx="122.3" cy="95.2" r="0.45" fill="#ffffff"/><circle cx="98.8" cy="71.7" r="0.45" fill="#ffffff"/><circle cx="87.5" cy="58.8" r="0.45" fill="#eba33a"/><circle cx="74.0" cy="90.9" r="0.45" fill="#ffffff"/><circle cx="62.9" cy="67.5" r="0.45" fill="#ffffff"/><circle cx="82.1" cy="129.5" r="0.45" fill="#1db1e6"/><circle cx="65.2" cy="65.8" r="0.45" fill="#ffffff"/><circle cx="71.5" cy="105.2" r="0.45" fill="#ffffff"/><circle cx="140.8" cy="110.8" r="0.45" fill="#14998a"/><circle cx="126.4" cy="74.6" r="0.45" fill="#ffffff"/><circle cx="46.6" cy="92.0" r="0.45" fill="#ffffff"/><circle cx="112.1" cy="37.8" r="0.45" fill="#1db1e6"/><circle cx="103.1" cy="119.8" r="0.45" fill="#1db1e6"/><circle cx="113.5" cy="96.4" r="0.45" fill="#95c2e6"/><circle cx="134.7" cy="76.5" r="0.45" fill="#ffffff"/>
</g>
<g filter="url(#bl)">
<path d="M206.8,92.8 C206.6,90.1 207.1,87.0 207.6,84.8 C208.0,82.6 208.7,81.3 209.7,79.8 C210.7,78.3 212.1,77.2 213.4,75.8 C214.8,74.4 216.3,72.7 217.7,71.3 C219.1,69.9 220.9,68.6 222.0,67.3 C223.1,66.0 223.8,64.6 224.3,63.3 C224.8,62.0 224.6,60.5 225.2,59.3 C225.7,58.1 226.8,56.8 227.8,56.0 C228.8,55.2 230.1,54.8 231.1,54.8 C232.2,54.8 233.3,55.2 234.2,55.8 C235.1,56.4 235.4,58.0 236.4,58.3 C237.3,58.6 238.6,58.0 240.1,57.8 C241.6,57.5 243.6,57.2 245.4,56.8 C247.2,56.4 249.1,56.4 250.7,55.3 C252.3,54.2 253.9,52.2 255.0,50.3 C256.2,48.4 256.8,46.1 257.7,43.8 C258.6,41.5 259.4,38.8 260.3,36.3 C261.2,33.8 262.1,30.9 263.0,28.8 C263.9,26.7 265.0,23.8 266.0,23.7 C267.0,23.6 267.9,27.1 268.9,28.3 C269.8,29.5 270.7,30.9 271.6,30.8 C272.6,30.7 273.7,28.5 274.7,27.8 C275.8,27.1 276.9,26.0 277.8,26.5 C278.7,27.0 279.4,28.9 280.1,30.8 C280.7,32.7 281.4,35.5 281.7,37.8 C281.9,40.1 281.8,42.5 281.7,44.8 C281.5,47.1 280.4,50.0 280.6,51.8 C280.8,53.6 281.7,54.7 282.7,55.8 C283.8,56.9 285.4,57.5 287.0,58.3 C288.6,59.1 290.5,60.5 292.3,60.8 C294.1,61.0 296.2,60.0 297.6,59.8 C299.1,59.5 299.7,59.1 300.8,59.3 C302.0,59.5 303.3,60.2 304.6,60.8 C305.8,61.4 307.0,62.0 308.3,62.8 C309.6,63.5 311.3,64.6 312.6,65.3 C313.8,66.0 314.3,66.7 315.8,66.8 C317.2,66.9 319.3,65.9 321.1,65.8 C322.9,65.7 325.0,65.6 326.4,66.1 C327.8,66.6 328.8,67.2 329.4,68.8 C330.0,70.4 329.8,73.6 329.8,75.8 C329.9,78.0 329.3,80.0 329.6,81.8 C329.9,83.6 330.9,85.0 331.8,86.8 C332.6,88.6 334.1,90.5 335.0,92.8 C335.8,95.1 336.3,97.8 336.7,100.8 C337.0,103.8 337.1,108.0 337.1,110.8 C337.1,113.5 337.4,115.5 336.9,117.3 C336.3,119.1 335.5,120.4 333.9,121.8 C332.3,123.2 329.4,124.5 327.5,125.8 C325.5,127.1 323.6,128.5 322.2,129.8 C320.7,131.1 319.9,132.4 319.0,133.8 C318.1,135.2 318.1,137.1 316.8,138.3 C315.6,139.5 313.8,140.3 311.5,140.8 C309.2,141.3 305.8,141.4 303.0,141.3 C300.1,141.2 296.3,140.4 294.4,140.3 C292.6,140.2 293.2,140.4 291.8,140.8 C290.4,141.2 288.0,142.4 285.9,142.6 C283.9,142.8 281.0,142.6 279.5,141.8 C278.0,141.0 277.3,139.4 276.9,137.8 C276.4,136.2 277.8,133.3 276.9,132.3 C275.9,131.3 272.9,131.6 271.0,131.8 C269.1,132.1 266.6,132.3 265.7,133.8 C264.7,135.3 265.8,138.6 265.1,140.8 C264.4,143.0 263.1,145.2 261.4,146.8 C259.7,148.4 257.0,150.1 255.0,150.4 C253.1,150.7 251.0,149.9 249.7,148.8 C248.3,147.7 247.7,145.6 247.0,143.8 C246.3,142.0 246.6,139.3 245.4,137.8 C244.3,136.3 241.9,135.4 240.1,134.8 C238.3,134.2 236.5,134.2 234.8,134.3 C233.0,134.4 231.0,135.6 229.4,135.3 C227.8,135.1 226.6,134.3 225.2,132.8 C223.7,131.3 222.3,128.8 220.9,126.3 C219.5,123.8 218.0,120.7 216.6,117.8 C215.3,114.9 214.1,111.6 212.9,108.8 C211.7,106.0 210.2,103.5 209.2,100.8 C208.2,98.1 207.1,95.5 206.8,92.8Z" fill="#cdd1d5"/>
<path d="M234.8,132.3 C235.1,131.1 239.2,129.3 242.0,127.6 C244.8,125.9 248.2,124.5 251.3,122.3 C254.4,120.1 258.3,116.7 260.7,114.4 C263.0,112.1 263.7,110.5 265.2,108.3 C266.8,106.1 268.5,103.3 269.9,101.3 C271.3,99.3 272.4,97.8 273.7,96.1 C274.9,94.3 276.1,92.3 277.4,90.8 C278.7,89.2 279.9,87.8 281.7,86.8 C283.4,85.8 286.5,84.5 288.1,84.8 C289.7,85.1 290.9,86.6 291.2,88.8 C291.6,91.0 291.4,95.6 290.2,97.8 C288.9,100.0 285.9,100.3 283.8,101.8 C281.7,103.3 279.5,105.1 277.4,106.8 C275.3,108.5 273.1,110.1 271.0,111.8 C268.9,113.5 266.3,115.3 264.6,116.8 C262.9,118.3 260.7,119.5 260.9,120.8 C261.0,122.1 263.6,123.9 265.7,124.8 C267.7,125.7 270.5,126.0 273.1,126.3 C275.8,126.5 280.9,125.5 281.7,126.3 C282.4,127.0 279.2,129.9 277.4,130.8 C275.6,131.7 273.0,131.3 271.0,131.8 C269.0,132.3 267.6,134.0 265.7,133.8 C263.7,133.6 261.6,131.3 259.3,130.8 C257.0,130.3 253.9,130.1 251.8,130.8 C249.7,131.5 248.4,134.1 246.5,134.8 C244.5,135.5 242.0,135.2 240.1,134.8 C238.1,134.4 234.4,133.5 234.8,132.3Z" fill="#e6e8ea"/>
<path d="M255.0,50.3 C254.4,48.6 256.8,46.1 257.7,43.8 C258.6,41.5 259.4,38.8 260.3,36.3 C261.2,33.8 262.1,30.9 263.0,28.8 C263.9,26.7 265.0,23.8 266.0,23.7 C267.0,23.6 267.9,27.1 268.9,28.3 C269.8,29.5 270.7,30.9 271.6,30.8 C272.6,30.7 273.7,28.5 274.7,27.8 C275.8,27.1 276.9,26.0 277.8,26.5 C278.7,27.0 279.4,28.9 280.1,30.8 C280.7,32.7 281.4,35.5 281.7,37.8 C281.9,40.1 281.8,42.5 281.7,44.8 C281.5,47.1 281.7,50.1 280.6,51.8 C279.5,53.5 277.2,54.1 275.3,54.8 C273.3,55.5 271.2,56.0 268.9,55.8 C266.6,55.6 263.7,54.7 261.4,53.8 C259.1,52.9 255.6,52.0 255.0,50.3Z" fill="#df977c" opacity="0.8"/>
<path d="M291.2,61.8 C292.1,60.0 293.9,60.7 295.5,60.3 C297.1,59.9 299.3,59.2 300.8,59.3 C302.4,59.4 303.3,60.2 304.6,60.8 C305.8,61.4 307.0,62.0 308.3,62.8 C309.6,63.5 311.4,64.5 312.6,65.3 C313.7,66.1 314.9,66.4 315.2,67.8 C315.6,69.2 315.3,72.0 314.7,73.8 C314.1,75.6 312.7,77.5 311.5,78.8 C310.3,80.1 308.5,80.6 307.2,81.8 C306.0,83.0 304.9,84.1 304.0,85.8 C303.2,87.5 302.8,89.8 301.9,91.8 C301.0,93.8 299.8,96.5 298.7,97.8 C297.6,99.1 296.5,100.1 295.5,99.8 C294.5,99.5 293.4,97.8 292.8,95.8 C292.3,93.8 292.6,90.6 292.3,87.8 C292.0,85.0 291.6,81.6 291.2,78.8 C290.9,76.0 290.2,73.6 290.2,70.8 C290.2,68.0 290.4,63.5 291.2,61.8Z" fill="#2a9a70" opacity="0.6"/>
<path d="M291.2,61.8 C292.0,59.7 293.9,60.7 295.5,60.3 C297.1,59.9 299.3,59.2 300.8,59.3 C302.4,59.4 303.3,60.2 304.6,60.8 C305.8,61.4 307.0,62.0 308.3,62.8 C309.6,63.5 311.4,64.5 312.6,65.3 C313.7,66.1 314.9,66.4 315.2,67.8 C315.6,69.2 315.3,72.0 314.7,73.8 C314.1,75.6 312.7,77.5 311.5,78.8 C310.3,80.1 308.8,81.1 307.2,81.8 C305.6,82.5 303.7,82.3 301.9,82.8 C300.1,83.3 298.0,85.1 296.6,84.8 C295.2,84.5 294.3,82.8 293.4,80.8 C292.5,78.8 291.6,76.0 291.2,72.8 C290.9,69.6 290.5,63.9 291.2,61.8Z" fill="#149262" opacity="0.9"/>
<path d="M315.2,67.8 C315.9,66.4 316.9,66.6 317.9,66.3 C318.9,66.0 319.7,65.8 321.1,65.8 C322.5,65.8 325.0,65.6 326.4,66.1 C327.8,66.6 328.8,67.2 329.4,68.8 C330.0,70.4 329.9,73.6 329.8,75.8 C329.8,78.0 329.8,80.4 329.1,81.8 C328.4,83.2 327.4,84.0 325.9,84.3 C324.4,84.6 321.7,84.4 320.0,83.8 C318.3,83.2 316.7,82.3 315.8,80.8 C314.8,79.3 314.3,77.0 314.2,74.8 C314.1,72.6 314.6,69.2 315.2,67.8Z" fill="#c8304e" opacity="0.6"/>
<path d="M299.8,88.8 C301.2,86.8 302.6,86.0 304.0,84.8 C305.5,83.6 306.9,82.6 308.3,81.8 C309.7,81.0 311.1,80.0 312.6,79.8 C314.0,79.6 315.4,80.1 316.8,80.8 C318.3,81.5 319.7,83.0 321.1,83.8 C322.5,84.6 324.4,84.3 325.4,85.8 C326.3,87.3 327.0,90.0 327.0,92.8 C327.0,95.6 326.2,99.8 325.4,102.8 C324.6,105.8 323.4,108.5 322.2,110.8 C320.9,113.1 319.3,115.1 317.9,116.8 C316.5,118.5 315.6,119.5 313.6,120.8 C311.7,122.0 308.8,123.5 306.2,124.3 C303.5,125.1 300.1,125.9 297.6,125.8 C295.2,125.7 293.1,125.0 291.2,123.8 C289.4,122.6 287.6,121.0 286.5,118.8 C285.3,116.6 284.6,113.5 284.3,110.8 C284.1,108.1 283.9,105.0 284.9,102.8 C285.8,100.6 288.4,98.8 290.2,97.8 C292.0,96.8 293.9,98.3 295.5,96.8 C297.1,95.3 298.4,90.8 299.8,88.8Z" fill="#d3caa8" opacity="0.7"/>
<path d="M325.4,85.3 C325.7,83.5 328.4,82.4 329.1,81.8 C329.8,81.2 329.2,81.0 329.6,81.8 C330.1,82.6 330.9,85.0 331.8,86.8 C332.6,88.6 334.1,90.5 335.0,92.8 C335.8,95.1 336.3,97.8 336.7,100.8 C337.0,103.8 337.1,108.0 337.1,110.8 C337.1,113.5 337.4,115.5 336.9,117.3 C336.3,119.1 335.5,120.4 333.9,121.8 C332.3,123.2 329.4,124.5 327.5,125.8 C325.5,127.1 323.8,129.3 322.2,129.8 C320.6,130.3 319.1,129.6 317.9,128.8 C316.7,128.0 315.4,126.1 314.7,124.8 C314.0,123.5 313.1,122.1 313.6,120.8 C314.2,119.5 316.5,118.5 317.9,116.8 C319.3,115.1 320.9,113.1 322.2,110.8 C323.4,108.5 324.6,105.8 325.4,102.8 C326.2,99.8 327.0,95.7 327.0,92.8 C327.0,89.9 325.0,87.1 325.4,85.3Z" fill="#dccbd0" opacity="0.4"/>
<path d="M277.4,131.3 C278.2,129.9 280.1,129.6 281.7,129.3 C283.3,129.1 285.5,129.2 287.0,129.8 C288.5,130.4 289.9,131.6 290.7,132.8 C291.5,134.1 292.0,136.0 291.8,137.3 C291.5,138.6 290.3,139.9 289.1,140.8 C288.0,141.7 286.5,142.4 284.9,142.6 C283.3,142.8 280.9,142.6 279.5,141.8 C278.2,141.0 277.2,139.6 276.9,137.8 C276.5,136.1 276.6,132.7 277.4,131.3Z" fill="#dba2b5" opacity="0.85"/>
<path d="M310.4,112.8 C311.3,111.7 313.4,111.1 314.7,111.3 C316.0,111.5 317.6,112.4 318.4,113.8 C319.2,115.2 319.6,117.8 319.5,119.8 C319.4,121.8 318.9,124.5 317.9,125.8 C316.9,127.0 314.9,127.6 313.6,127.3 C312.4,127.0 311.1,125.4 310.4,123.8 C309.7,122.2 309.4,119.6 309.4,117.8 C309.4,116.0 309.5,113.9 310.4,112.8Z" fill="#4f6ea8" opacity="0.45"/>
<circle cx="268.9" cy="64.8" r="0.8" fill="#e8b060"/>
<circle cx="271.0" cy="67.3" r="0.8" fill="#e8b060"/>
<circle cx="273.7" cy="65.8" r="0.8" fill="#e8b060"/>
<circle cx="275.3" cy="68.8" r="0.8" fill="#e8b060"/>
<circle cx="269.9" cy="69.3" r="0.8" fill="#e8b060"/>
<circle cx="272.6" cy="63.3" r="0.8" fill="#e8b060"/>
<circle cx="276.3" cy="66.3" r="0.8" fill="#e8b060"/>
<circle cx="267.8" cy="66.8" r="0.8" fill="#e8b060"/>
<circle cx="291.4" cy="138.1" r="0.45" fill="#cbbb8e"/><circle cx="320.6" cy="71.5" r="0.45" fill="#3cb4e0"/><circle cx="245.1" cy="100.0" r="0.45" fill="#3cb4e0"/><circle cx="269.0" cy="113.0" r="0.45" fill="#ffffff"/><circle cx="273.2" cy="69.2" r="0.45" fill="#3cb4e0"/><circle cx="241.6" cy="112.7" r="0.45" fill="#3cb4e0"/><circle cx="269.4" cy="115.0" r="0.45" fill="#ffffff"/><circle cx="284.9" cy="141.0" r="0.45" fill="#ffffff"/><circle cx="252.3" cy="98.0" r="0.45" fill="#3cb4e0"/><circle cx="244.0" cy="67.8" r="0.45" fill="#e06a4a"/><circle cx="268.5" cy="48.3" r="0.45" fill="#e06a4a"/><circle cx="237.3" cy="83.5" r="0.45" fill="#3cb4e0"/><circle cx="278.6" cy="110.6" r="0.45" fill="#3cb4e0"/><circle cx="283.0" cy="126.7" r="0.45" fill="#ffffff"/><circle cx="226.4" cy="102.5" r="0.45" fill="#3cb4e0"/><circle cx="219.3" cy="71.3" r="0.45" fill="#ffffff"/><circle cx="278.8" cy="102.3" r="0.45" fill="#3cb4e0"/><circle cx="250.4" cy="96.2" r="0.45" fill="#3cb4e0"/><circle cx="255.0" cy="129.8" r="0.45" fill="#3cb4e0"/><circle cx="304.9" cy="108.8" r="0.45" fill="#ffffff"/><circle cx="229.5" cy="69.1" r="0.45" fill="#ffffff"/><circle cx="271.2" cy="122.8" r="0.45" fill="#ffffff"/><circle cx="328.4" cy="124.0" r="0.45" fill="#ffffff"/><circle cx="240.0" cy="74.3" r="0.45" fill="#3cb4e0"/><circle cx="255.5" cy="121.3" r="0.45" fill="#c9cdd2"/><circle cx="315.1" cy="115.8" r="0.45" fill="#ffffff"/><circle cx="313.4" cy="76.5" r="0.45" fill="#ffffff"/><circle cx="315.7" cy="85.5" r="0.45" fill="#ffffff"/><circle cx="311.6" cy="71.0" r="0.45" fill="#ffffff"/><circle cx="273.1" cy="97.9" r="0.45" fill="#c9cdd2"/><circle cx="279.2" cy="30.6" r="0.45" fill="#e06a4a"/><circle cx="260.4" cy="145.5" r="0.45" fill="#ffffff"/><circle cx="311.2" cy="124.8" r="0.45" fill="#ffffff"/><circle cx="277.6" cy="74.9" r="0.45" fill="#3cb4e0"/><circle cx="269.3" cy="99.1" r="0.45" fill="#3cb4e0"/><circle cx="309.7" cy="65.1" r="0.45" fill="#ffffff"/><circle cx="274.1" cy="32.1" r="0.45" fill="#e06a4a"/><circle cx="253.6" cy="127.0" r="0.45" fill="#c9cdd2"/><circle cx="236.6" cy="108.1" r="0.45" fill="#3cb4e0"/><circle cx="307.0" cy="69.0" r="0.45" fill="#ffffff"/><circle cx="273.8" cy="29.6" r="0.45" fill="#e06a4a"/><circle cx="243.1" cy="108.1" r="0.45" fill="#3cb4e0"/><circle cx="227.5" cy="81.4" r="0.45" fill="#3cb4e0"/><circle cx="269.0" cy="113.1" r="0.45" fill="#ffffff"/><circle cx="256.3" cy="67.1" r="0.45" fill="#ffffff"/><circle cx="278.4" cy="129.0" r="0.45" fill="#c9cdd2"/><circle cx="280.2" cy="95.4" r="0.45" fill="#3cb4e0"/><circle cx="303.5" cy="94.6" r="0.45" fill="#ffffff"/><circle cx="210.2" cy="98.2" r="0.45" fill="#cbbb8e"/><circle cx="290.6" cy="130.8" r="0.45" fill="#cbbb8e"/><circle cx="239.4" cy="61.0" r="0.45" fill="#e06a4a"/><circle cx="266.9" cy="42.7" r="0.45" fill="#e06a4a"/><circle cx="307.5" cy="65.9" r="0.45" fill="#cbbb8e"/><circle cx="317.4" cy="97.4" r="0.45" fill="#ffffff"/><circle cx="259.3" cy="65.0" r="0.45" fill="#ffffff"/><circle cx="259.6" cy="134.1" r="0.45" fill="#ffffff"/><circle cx="324.3" cy="87.6" r="0.45" fill="#cbbb8e"/><circle cx="248.0" cy="69.2" r="0.45" fill="#e06a4a"/><circle cx="237.7" cy="101.5" r="0.45" fill="#3cb4e0"/><circle cx="265.4" cy="127.9" r="0.45" fill="#3cb4e0"/><circle cx="258.7" cy="113.7" r="0.45" fill="#3cb4e0"/><circle cx="277.2" cy="93.9" r="0.45" fill="#ffffff"/><circle cx="249.4" cy="135.0" r="0.45" fill="#cbbb8e"/><circle cx="261.6" cy="82.1" r="0.45" fill="#3cb4e0"/><circle cx="267.5" cy="59.8" r="0.45" fill="#3cb4e0"/><circle cx="227.8" cy="73.4" r="0.45" fill="#ffffff"/><circle cx="241.4" cy="90.0" r="0.45" fill="#3cb4e0"/><circle cx="251.6" cy="121.3" r="0.45" fill="#3cb4e0"/><circle cx="315.7" cy="98.3" r="0.45" fill="#ffffff"/><circle cx="255.1" cy="75.8" r="0.45" fill="#3cb4e0"/><circle cx="320.9" cy="68.4" r="0.45" fill="#cbbb8e"/><circle cx="258.9" cy="77.4" r="0.45" fill="#3cb4e0"/><circle cx="305.6" cy="138.7" r="0.45" fill="#ffffff"/><circle cx="265.9" cy="58.4" r="0.45" fill="#e06a4a"/><circle cx="250.0" cy="101.1" r="0.45" fill="#3cb4e0"/><circle cx="234.4" cy="81.2" r="0.45" fill="#3cb4e0"/><circle cx="227.4" cy="57.4" r="0.45" fill="#ffffff"/><circle cx="265.9" cy="38.2" r="0.45" fill="#e06a4a"/><circle cx="288.7" cy="111.2" r="0.45" fill="#ffffff"/><circle cx="271.3" cy="60.5" r="0.45" fill="#3cb4e0"/><circle cx="258.2" cy="139.3" r="0.45" fill="#ffffff"/><circle cx="239.4" cy="69.4" r="0.45" fill="#e06a4a"/><circle cx="288.7" cy="84.1" r="0.45" fill="#cbbb8e"/><circle cx="274.9" cy="72.9" r="0.45" fill="#3cb4e0"/><circle cx="218.1" cy="89.4" r="0.45" fill="#ffffff"/><circle cx="268.0" cy="89.5" r="0.45" fill="#3cb4e0"/><circle cx="220.2" cy="82.8" r="0.45" fill="#ffffff"/><circle cx="323.2" cy="108.8" r="0.45" fill="#3cb4e0"/><circle cx="255.3" cy="63.1" r="0.45" fill="#e06a4a"/><circle cx="246.3" cy="64.7" r="0.45" fill="#e06a4a"/><circle cx="305.9" cy="64.8" r="0.45" fill="#ffffff"/><circle cx="290.7" cy="138.3" r="0.45" fill="#ffffff"/><circle cx="311.4" cy="99.4" r="0.45" fill="#3cb4e0"/><circle cx="296.4" cy="136.7" r="0.45" fill="#3cb4e0"/><circle cx="309.5" cy="124.9" r="0.45" fill="#ffffff"/><circle cx="219.5" cy="80.1" r="0.45" fill="#ffffff"/><circle cx="326.0" cy="79.2" r="0.45" fill="#ffffff"/><circle cx="272.1" cy="86.4" r="0.45" fill="#3cb4e0"/><circle cx="291.6" cy="130.8" r="0.45" fill="#ffffff"/><circle cx="303.5" cy="111.2" r="0.45" fill="#ffffff"/><circle cx="324.4" cy="75.5" r="0.45" fill="#ffffff"/><circle cx="294.5" cy="88.7" r="0.45" fill="#ffffff"/><circle cx="221.8" cy="99.9" r="0.45" fill="#ffffff"/><circle cx="270.6" cy="80.7" r="0.45" fill="#3cb4e0"/><circle cx="266.4" cy="26.1" r="0.45" fill="#e06a4a"/><circle cx="329.0" cy="84.3" r="0.45" fill="#ffffff"/><circle cx="303.3" cy="69.1" r="0.45" fill="#ffffff"/><circle cx="256.7" cy="121.3" r="0.45" fill="#3cb4e0"/><circle cx="227.1" cy="102.1" r="0.45" fill="#3cb4e0"/><circle cx="250.8" cy="87.8" r="0.45" fill="#3cb4e0"/><circle cx="270.4" cy="80.6" r="0.45" fill="#3cb4e0"/><circle cx="324.1" cy="107.7" r="0.45" fill="#cbbb8e"/><circle cx="264.7" cy="93.4" r="0.45" fill="#3cb4e0"/><circle cx="231.7" cy="90.6" r="0.45" fill="#3cb4e0"/><circle cx="262.1" cy="107.7" r="0.45" fill="#3cb4e0"/><circle cx="276.6" cy="77.3" r="0.45" fill="#3cb4e0"/><circle cx="266.7" cy="67.6" r="0.45" fill="#3cb4e0"/><circle cx="257.6" cy="76.2" r="0.45" fill="#3cb4e0"/><circle cx="239.3" cy="61.0" r="0.45" fill="#e06a4a"/><circle cx="283.2" cy="62.8" r="0.45" fill="#3cb4e0"/><circle cx="313.2" cy="93.5" r="0.45" fill="#ffffff"/><circle cx="313.5" cy="133.8" r="0.45" fill="#ffffff"/><circle cx="251.5" cy="125.8" r="0.45" fill="#ffffff"/><circle cx="209.3" cy="82.9" r="0.45" fill="#ffffff"/><circle cx="263.3" cy="66.6" r="0.45" fill="#3cb4e0"/><circle cx="329.4" cy="95.8" r="0.45" fill="#ffffff"/><circle cx="242.3" cy="73.6" r="0.45" fill="#e06a4a"/><circle cx="290.5" cy="117.3" r="0.45" fill="#ffffff"/><circle cx="250.4" cy="69.7" r="0.45" fill="#e06a4a"/><circle cx="266.5" cy="122.1" r="0.45" fill="#ffffff"/><circle cx="270.4" cy="77.9" r="0.45" fill="#3cb4e0"/><circle cx="250.2" cy="101.5" r="0.45" fill="#3cb4e0"/><circle cx="230.3" cy="60.0" r="0.45" fill="#ffffff"/><circle cx="244.8" cy="92.1" r="0.45" fill="#3cb4e0"/><circle cx="243.7" cy="94.8" r="0.45" fill="#3cb4e0"/><circle cx="241.9" cy="95.8" r="0.45" fill="#3cb4e0"/><circle cx="246.3" cy="130.7" r="0.45" fill="#c9cdd2"/><circle cx="307.3" cy="84.4" r="0.45" fill="#ffffff"/><circle cx="286.3" cy="98.1" r="0.45" fill="#3cb4e0"/><circle cx="321.4" cy="87.4" r="0.45" fill="#3cb4e0"/><circle cx="279.2" cy="133.1" r="0.45" fill="#ffffff"/><circle cx="323.9" cy="117.1" r="0.45" fill="#ffffff"/><circle cx="279.3" cy="111.7" r="0.45" fill="#cbbb8e"/><circle cx="278.6" cy="91.7" r="0.45" fill="#3cb4e0"/><circle cx="266.1" cy="87.9" r="0.45" fill="#3cb4e0"/><circle cx="282.3" cy="99.9" r="0.45" fill="#c9cdd2"/><circle cx="275.1" cy="128.1" r="0.45" fill="#3cb4e0"/><circle cx="264.4" cy="54.0" r="0.45" fill="#e06a4a"/><circle cx="244.5" cy="114.4" r="0.45" fill="#3cb4e0"/><circle cx="262.9" cy="48.8" r="0.45" fill="#e06a4a"/><circle cx="312.0" cy="100.5" r="0.45" fill="#ffffff"/><circle cx="304.7" cy="72.5" r="0.45" fill="#ffffff"/><circle cx="249.2" cy="79.4" r="0.45" fill="#3cb4e0"/><circle cx="287.1" cy="73.4" r="0.45" fill="#3cb4e0"/><circle cx="252.7" cy="69.4" r="0.45" fill="#cbbb8e"/><circle cx="304.8" cy="135.2" r="0.45" fill="#cbbb8e"/><circle cx="283.3" cy="92.2" r="0.45" fill="#3cb4e0"/><circle cx="280.9" cy="98.6" r="0.45" fill="#ffffff"/><circle cx="274.2" cy="37.3" r="0.45" fill="#e06a4a"/><circle cx="291.4" cy="61.4" r="0.45" fill="#3cb4e0"/><circle cx="280.2" cy="49.4" r="0.45" fill="#e06a4a"/><circle cx="276.3" cy="114.8" r="0.45" fill="#cbbb8e"/><circle cx="282.9" cy="91.2" r="0.45" fill="#3cb4e0"/><circle cx="269.4" cy="53.7" r="0.45" fill="#e06a4a"/><circle cx="281.9" cy="100.8" r="0.45" fill="#ffffff"/><circle cx="267.9" cy="38.1" r="0.45" fill="#e06a4a"/><circle cx="288.1" cy="114.5" r="0.45" fill="#ffffff"/><circle cx="251.0" cy="59.5" r="0.45" fill="#e06a4a"/><circle cx="313.4" cy="81.3" r="0.45" fill="#ffffff"/><circle cx="219.7" cy="72.8" r="0.45" fill="#ffffff"/><circle cx="280.6" cy="91.1" r="0.45" fill="#3cb4e0"/><circle cx="232.1" cy="88.8" r="0.45" fill="#3cb4e0"/><circle cx="241.7" cy="112.7" r="0.45" fill="#3cb4e0"/><circle cx="216.6" cy="84.0" r="0.45" fill="#3cb4e0"/><circle cx="218.8" cy="121.8" r="0.45" fill="#ffffff"/><circle cx="248.2" cy="81.5" r="0.45" fill="#3cb4e0"/><circle cx="327.1" cy="77.4" r="0.45" fill="#ffffff"/><circle cx="271.9" cy="43.5" r="0.45" fill="#e06a4a"/><circle cx="263.5" cy="90.3" r="0.45" fill="#3cb4e0"/><circle cx="250.7" cy="77.2" r="0.45" fill="#3cb4e0"/><circle cx="227.5" cy="92.9" r="0.45" fill="#3cb4e0"/><circle cx="260.1" cy="102.3" r="0.45" fill="#3cb4e0"/><circle cx="227.6" cy="121.7" r="0.45" fill="#ffffff"/><circle cx="311.5" cy="98.4" r="0.45" fill="#ffffff"/><circle cx="278.4" cy="129.5" r="0.45" fill="#ffffff"/><circle cx="305.7" cy="93.8" r="0.45" fill="#ffffff"/><circle cx="219.8" cy="115.7" r="0.45" fill="#ffffff"/><circle cx="293.7" cy="95.8" r="0.45" fill="#cbbb8e"/><circle cx="231.9" cy="60.7" r="0.45" fill="#ffffff"/><circle cx="283.4" cy="98.3" r="0.45" fill="#c9cdd2"/><circle cx="285.0" cy="82.9" r="0.45" fill="#3cb4e0"/><circle cx="316.7" cy="117.0" r="0.45" fill="#ffffff"/><circle cx="246.2" cy="66.7" r="0.45" fill="#e06a4a"/><circle cx="274.0" cy="75.3" r="0.45" fill="#3cb4e0"/><circle cx="326.3" cy="118.1" r="0.45" fill="#3cb4e0"/><circle cx="315.4" cy="113.3" r="0.45" fill="#3cb4e0"/><circle cx="271.2" cy="84.5" r="0.45" fill="#3cb4e0"/><circle cx="248.9" cy="59.2" r="0.45" fill="#e06a4a"/><circle cx="285.8" cy="122.2" r="0.45" fill="#ffffff"/><circle cx="313.8" cy="97.3" r="0.45" fill="#ffffff"/><circle cx="249.9" cy="108.6" r="0.45" fill="#3cb4e0"/><circle cx="222.4" cy="73.6" r="0.45" fill="#ffffff"/><circle cx="307.3" cy="99.3" r="0.45" fill="#ffffff"/><circle cx="278.7" cy="99.4" r="0.45" fill="#ffffff"/><circle cx="233.0" cy="123.7" r="0.45" fill="#3cb4e0"/><circle cx="328.6" cy="99.9" r="0.45" fill="#ffffff"/>
</g>
<text x="98.5" y="43.4" font-size="7.8" fill="#2a2a2a">T03</text>
<text x="107" y="65.1" font-size="7.8" fill="#2a2a2a">T05</text>
<text x="133.9" y="74.8" font-size="7.8" fill="#2a2a2a">T10</text>
<text x="154.7" y="73" font-size="7.8" fill="#2a2a2a">T07</text>
<text x="58.7" y="90.3" font-size="7.8" fill="#2a2a2a">T01</text>
<text x="86.1" y="92.2" font-size="7.8" fill="#2a2a2a">T02</text>
<text x="123.4" y="111.5" font-size="7.8" fill="#2a2a2a">T08</text>
<text x="155.8" y="109.5" font-size="7.8" fill="#2a2a2a">T09</text>
<text x="111.1" y="132.3" font-size="7.8" fill="#2a2a2a">T11</text>
<text x="135.6" y="132" font-size="7.8" fill="#2a2a2a">T04</text>
<text x="91.4" y="138.1" font-size="7.8" fill="#2a2a2a">T06</text>
<text x="136.2" y="145.7" font-size="7.8" fill="#2a2a2a">T12</text>
<line x1="38.70" y1="157.30" x2="175.10" y2="157.30" stroke="#777" stroke-width="0.8"/>
<line x1="63.50" y1="157.30" x2="63.50" y2="159.50" stroke="#777" stroke-width="0.7"/>
<text x="63.5" y="168.6" font-size="7.5" fill="#444" text-anchor="middle">−5</text>
<line x1="102.40" y1="157.30" x2="102.40" y2="159.50" stroke="#777" stroke-width="0.7"/>
<text x="102.4" y="168.6" font-size="7.5" fill="#444" text-anchor="middle">0</text>
<line x1="140.70" y1="157.30" x2="140.70" y2="159.50" stroke="#777" stroke-width="0.7"/>
<text x="140.7" y="168.6" font-size="7.5" fill="#444" text-anchor="middle">5</text>
<line x1="38.70" y1="18.00" x2="38.70" y2="157.30" stroke="#777" stroke-width="0.8"/>
<line x1="36.50" y1="39.10" x2="38.70" y2="39.10" stroke="#777" stroke-width="0.7"/>
<text x="32" y="41.7" font-size="7.5" fill="#444" text-anchor="end">5.0</text>
<line x1="36.50" y1="66.70" x2="38.70" y2="66.70" stroke="#777" stroke-width="0.7"/>
<text x="32" y="69.3" font-size="7.5" fill="#444" text-anchor="end">2.5</text>
<line x1="36.50" y1="94.20" x2="38.70" y2="94.20" stroke="#777" stroke-width="0.7"/>
<text x="32" y="96.8" font-size="7.5" fill="#444" text-anchor="end">0</text>
<line x1="36.50" y1="121.80" x2="38.70" y2="121.80" stroke="#777" stroke-width="0.7"/>
<text x="32" y="124.39999999999999" font-size="7.5" fill="#444" text-anchor="end">−2.5</text>
<line x1="36.50" y1="149.30" x2="38.70" y2="149.30" stroke="#777" stroke-width="0.7"/>
<text x="32" y="151.9" font-size="7.5" fill="#444" text-anchor="end">−5.0</text>
<text x="11.1" y="87.6" font-size="9" fill="#333" text-anchor="middle" transform="rotate(-90 11.1 87.6)" textLength="31" lengthAdjust="spacingAndGlyphs">UMAP_2</text>
<text x="176.3" y="181.4" font-size="9" fill="#333" textLength="30.3" lengthAdjust="spacingAndGlyphs">UMAP_1</text>
<line x1="199.30" y1="157.30" x2="344.90" y2="157.30" stroke="#777" stroke-width="0.8"/>
<line x1="229.60" y1="157.30" x2="229.60" y2="159.50" stroke="#777" stroke-width="0.7"/>
<text x="229.6" y="168.6" font-size="7.5" fill="#444" text-anchor="middle">−5</text>
<line x1="274.60" y1="157.30" x2="274.60" y2="159.50" stroke="#777" stroke-width="0.7"/>
<text x="274.6" y="168.6" font-size="7.5" fill="#444" text-anchor="middle">0</text>
<line x1="314.40" y1="157.30" x2="314.40" y2="159.50" stroke="#777" stroke-width="0.7"/>
<text x="314.4" y="168.6" font-size="7.5" fill="#444" text-anchor="middle">5</text>
<text x="106.9" y="10.6" font-size="9.6" fill="#333" text-anchor="middle" textLength="60.5" lengthAdjust="spacingAndGlyphs">T-cell clusters</text>
<text x="272.2" y="10.6" font-size="9.6" fill="#333" text-anchor="middle" textLength="53" lengthAdjust="spacingAndGlyphs">Clonal T cell</text>
<circle cx="358.5" cy="16.8" r="2.8" fill="#13998a"/>
<text x="365.3" y="19.900000000000002" font-size="8.8" fill="#333" textLength="60.4" lengthAdjust="spacingAndGlyphs">T01_CD4–CCR7</text>
<circle cx="358.5" cy="26.3" r="2.8" fill="#16b4e8"/>
<text x="365.3" y="29.39" font-size="8.8" fill="#333" textLength="66.3" lengthAdjust="spacingAndGlyphs">T02_CD4–ANXA1</text>
<circle cx="358.5" cy="35.8" r="2.8" fill="#e1694b"/>
<text x="365.3" y="38.88" font-size="8.8" fill="#333" textLength="65.5" lengthAdjust="spacingAndGlyphs">T03_CD4–FOXP3</text>
<circle cx="358.5" cy="45.3" r="2.8" fill="#2d5d98"/>
<text x="365.3" y="48.37" font-size="8.8" fill="#333" textLength="71.8" lengthAdjust="spacingAndGlyphs">T04_CD4–CX3CR1</text>
<circle cx="358.5" cy="54.8" r="2.8" fill="#ef9a26"/>
<text x="365.3" y="57.86000000000001" font-size="8.8" fill="#333" textLength="71.4" lengthAdjust="spacingAndGlyphs">T05_CD4–CXCL13</text>
<circle cx="358.5" cy="64.2" r="2.8" fill="#99c6e8"/>
<text x="365.3" y="67.35" font-size="8.8" fill="#333" textLength="62.2" lengthAdjust="spacingAndGlyphs">T06_CD8–CCR7</text>
<circle cx="358.5" cy="73.7" r="2.8" fill="#c4164f"/>
<text x="365.3" y="76.83999999999999" font-size="8.8" fill="#333" textLength="67.4" lengthAdjust="spacingAndGlyphs">T07_CD8–ANXA2</text>
<circle cx="358.5" cy="83.2" r="2.8" fill="#c9b990"/>
<text x="365.3" y="86.33" font-size="8.8" fill="#333" textLength="64.5" lengthAdjust="spacingAndGlyphs">T08_CD8–GZMK</text>
<circle cx="358.5" cy="92.7" r="2.8" fill="#f4c3cc"/>
<text x="365.3" y="95.82" font-size="8.8" fill="#333" textLength="71.8" lengthAdjust="spacingAndGlyphs">T09_CD8–CX3CR1</text>
<circle cx="358.5" cy="102.2" r="2.8" fill="#0b8a5c"/>
<text x="365.3" y="105.30999999999999" font-size="8.8" fill="#333" textLength="71.8" lengthAdjust="spacingAndGlyphs">T10_CD8–HAVCR2</text>
<circle cx="358.5" cy="111.7" r="2.8" fill="#e09aae"/>
<text x="365.3" y="114.8" font-size="8.8" fill="#333" textLength="72.4" lengthAdjust="spacingAndGlyphs">T11_CD8–SLC4A10</text>
<circle cx="358.5" cy="121.2" r="2.8" fill="#0c6fb7"/>
<text x="365.3" y="124.28999999999999" font-size="8.8" fill="#333" textLength="65.5" lengthAdjust="spacingAndGlyphs">T12_CD8–TR DV2</text>
<circle cx="358.5" cy="130.7" r="2.8" fill="#c5cad0"/>
<text x="365.3" y="133.78" font-size="8.8" fill="#333" textLength="53.1" lengthAdjust="spacingAndGlyphs">Single TCR or</text>
<text x="365.3" y="143.27" font-size="8.8" fill="#333" textLength="51" lengthAdjust="spacingAndGlyphs">not detected</text>
<rect x="473.50" y="6.70" width="25.76" height="13.60" fill="#f08a30"/>
<rect x="498.96" y="6.70" width="25.76" height="13.60" fill="#f08a30"/>
<rect x="524.42" y="6.70" width="25.76" height="13.60" fill="#f9d8ba"/>
<rect x="549.88" y="6.70" width="25.76" height="13.60" fill="#eadac9"/>
<rect x="575.34" y="6.70" width="25.76" height="13.60" fill="#eadac9"/>
<rect x="473.50" y="20.00" width="25.76" height="13.60" fill="#f08a30"/>
<rect x="498.96" y="20.00" width="25.76" height="13.60" fill="#f9d8ba"/>
<rect x="524.42" y="20.00" width="25.76" height="13.60" fill="#f08a30"/>
<rect x="549.88" y="20.00" width="25.76" height="13.60" fill="#eadac9"/>
<rect x="575.34" y="20.00" width="25.76" height="13.60" fill="#eadac9"/>
<rect x="473.50" y="33.30" width="25.76" height="13.60" fill="#f9d8ba"/>
<rect x="498.96" y="33.30" width="25.76" height="13.60" fill="#f9d8ba"/>
<rect x="524.42" y="33.30" width="25.76" height="13.60" fill="#f9d8ba"/>
<rect x="549.88" y="33.30" width="25.76" height="13.60" fill="#ec7d2a"/>
<rect x="575.34" y="33.30" width="25.76" height="13.60" fill="#f08a30"/>
<rect x="473.50" y="46.60" width="25.76" height="13.60" fill="#eadac9"/>
<rect x="498.96" y="46.60" width="25.76" height="13.60" fill="#f08a30"/>
<rect x="524.42" y="46.60" width="25.76" height="13.60" fill="#f08a30"/>
<rect x="549.88" y="46.60" width="25.76" height="13.60" fill="#eadac9"/>
<rect x="575.34" y="46.60" width="25.76" height="13.60" fill="#eadac9"/>
<rect x="473.50" y="59.90" width="25.76" height="13.60" fill="#f9d8ba"/>
<rect x="498.96" y="59.90" width="25.76" height="13.60" fill="#cdd1d3"/>
<rect x="524.42" y="59.90" width="25.76" height="13.60" fill="#eadac9"/>
<rect x="549.88" y="59.90" width="25.76" height="13.60" fill="#f08a30"/>
<rect x="575.34" y="59.90" width="25.76" height="13.60" fill="#ec7d2a"/>
<rect x="473.50" y="73.20" width="25.76" height="13.60" fill="#f08a30"/>
<rect x="498.96" y="73.20" width="25.76" height="13.60" fill="#f08a30"/>
<rect x="524.42" y="73.20" width="25.76" height="13.60" fill="#f9d8ba"/>
<rect x="549.88" y="73.20" width="25.76" height="13.60" fill="#eadac9"/>
<rect x="575.34" y="73.20" width="25.76" height="13.60" fill="#eadac9"/>
<rect x="473.50" y="86.50" width="25.76" height="13.60" fill="#eadac9"/>
<rect x="498.96" y="86.50" width="25.76" height="13.60" fill="#eadac9"/>
<rect x="524.42" y="86.50" width="25.76" height="13.60" fill="#eadac9"/>
<rect x="549.88" y="86.50" width="25.76" height="13.60" fill="#ec7d2a"/>
<rect x="575.34" y="86.50" width="25.76" height="13.60" fill="#ec7d2a"/>
<rect x="473.50" y="99.80" width="25.76" height="13.60" fill="#f9d8ba"/>
<rect x="498.96" y="99.80" width="25.76" height="13.60" fill="#f9d8ba"/>
<rect x="524.42" y="99.80" width="25.76" height="13.60" fill="#f08a30"/>
<rect x="549.88" y="99.80" width="25.76" height="13.60" fill="#f08a30"/>
<rect x="575.34" y="99.80" width="25.76" height="13.60" fill="#f9d8ba"/>
<rect x="473.50" y="113.10" width="25.76" height="13.60" fill="#eadac9"/>
<rect x="498.96" y="113.10" width="25.76" height="13.60" fill="#f08a30"/>
<rect x="524.42" y="113.10" width="25.76" height="13.60" fill="#f08a30"/>
<rect x="549.88" y="113.10" width="25.76" height="13.60" fill="#f9d8ba"/>
<rect x="575.34" y="113.10" width="25.76" height="13.60" fill="#eadac9"/>
<rect x="473.50" y="126.40" width="25.76" height="13.60" fill="#eadac9"/>
<rect x="498.96" y="126.40" width="25.76" height="13.60" fill="#cdd1d3"/>
<rect x="524.42" y="126.40" width="25.76" height="13.60" fill="#f9d8ba"/>
<rect x="549.88" y="126.40" width="25.76" height="13.60" fill="#f08a30"/>
<rect x="575.34" y="126.40" width="25.76" height="13.60" fill="#ec7d2a"/>
<rect x="473.50" y="139.70" width="25.76" height="13.60" fill="#eadac9"/>
<rect x="498.96" y="139.70" width="25.76" height="13.60" fill="#f08a30"/>
<rect x="524.42" y="139.70" width="25.76" height="13.60" fill="#f08a30"/>
<rect x="549.88" y="139.70" width="25.76" height="13.60" fill="#eadac9"/>
<rect x="575.34" y="139.70" width="25.76" height="13.60" fill="#cdd1d3"/>
<rect x="473.50" y="153.00" width="25.76" height="13.60" fill="#eadac9"/>
<rect x="498.96" y="153.00" width="25.76" height="13.60" fill="#f08a30"/>
<rect x="524.42" y="153.00" width="25.76" height="13.60" fill="#f08a30"/>
<rect x="549.88" y="153.00" width="25.76" height="13.60" fill="#f9d8ba"/>
<rect x="575.34" y="153.00" width="25.76" height="13.60" fill="#f9d8ba"/>
<text x="486.23" y="16.150000000000002" font-size="8" fill="#262626" text-anchor="middle" textLength="7.6" lengthAdjust="spacingAndGlyphs">++</text>
<text x="511.69" y="16.150000000000002" font-size="8" fill="#262626" text-anchor="middle" textLength="7.6" lengthAdjust="spacingAndGlyphs">++</text>
<text x="537.15" y="16.150000000000002" font-size="8" fill="#262626" text-anchor="middle">+</text>
<text x="562.61" y="16.150000000000002" font-size="8" fill="#262626" text-anchor="middle" textLength="12.3" lengthAdjust="spacingAndGlyphs">+/−</text>
<text x="588.07" y="16.150000000000002" font-size="8" fill="#262626" text-anchor="middle" textLength="12.3" lengthAdjust="spacingAndGlyphs">+/−</text>
<text x="486.23" y="29.45" font-size="8" fill="#262626" text-anchor="middle" textLength="7.6" lengthAdjust="spacingAndGlyphs">++</text>
<text x="511.69" y="29.45" font-size="8" fill="#262626" text-anchor="middle">+</text>
<text x="537.15" y="29.45" font-size="8" fill="#262626" text-anchor="middle" textLength="7.6" lengthAdjust="spacingAndGlyphs">++</text>
<text x="562.61" y="29.45" font-size="8" fill="#262626" text-anchor="middle" textLength="12.3" lengthAdjust="spacingAndGlyphs">+/−</text>
<text x="588.07" y="29.45" font-size="8" fill="#262626" text-anchor="middle" textLength="12.3" lengthAdjust="spacingAndGlyphs">+/−</text>
<text x="486.23" y="42.75" font-size="8" fill="#262626" text-anchor="middle">+</text>
<text x="511.69" y="42.75" font-size="8" fill="#262626" text-anchor="middle">+</text>
<text x="537.15" y="42.75" font-size="8" fill="#262626" text-anchor="middle">+</text>
<text x="562.61" y="42.75" font-size="8" fill="#262626" text-anchor="middle" textLength="12.4" lengthAdjust="spacingAndGlyphs">+++</text>
<text x="588.07" y="42.75" font-size="8" fill="#262626" text-anchor="middle" textLength="7.6" lengthAdjust="spacingAndGlyphs">++</text>
<text x="486.23" y="56.050000000000004" font-size="8" fill="#262626" text-anchor="middle" textLength="12.3" lengthAdjust="spacingAndGlyphs">+/−</text>
<text x="511.69" y="56.050000000000004" font-size="8" fill="#262626" text-anchor="middle" textLength="7.6" lengthAdjust="spacingAndGlyphs">++</text>
<text x="537.15" y="56.050000000000004" font-size="8" fill="#262626" text-anchor="middle" textLength="7.6" lengthAdjust="spacingAndGlyphs">++</text>
<text x="562.61" y="56.050000000000004" font-size="8" fill="#262626" text-anchor="middle" textLength="12.3" lengthAdjust="spacingAndGlyphs">+/−</text>
<text x="588.07" y="56.050000000000004" font-size="8" fill="#262626" text-anchor="middle" textLength="12.3" lengthAdjust="spacingAndGlyphs">+/−</text>
<text x="486.23" y="69.35000000000001" font-size="8" fill="#262626" text-anchor="middle">+</text>
<text x="511.69" y="69.35000000000001" font-size="8" fill="#262626" text-anchor="middle">–</text>
<text x="537.15" y="69.35000000000001" font-size="8" fill="#262626" text-anchor="middle" textLength="12.3" lengthAdjust="spacingAndGlyphs">+/−</text>
<text x="562.61" y="69.35000000000001" font-size="8" fill="#262626" text-anchor="middle" textLength="7.6" lengthAdjust="spacingAndGlyphs">++</text>
<text x="588.07" y="69.35000000000001" font-size="8" fill="#262626" text-anchor="middle" textLength="12.4" lengthAdjust="spacingAndGlyphs">+++</text>
<text x="486.23" y="82.65" font-size="8" fill="#262626" text-anchor="middle" textLength="7.6" lengthAdjust="spacingAndGlyphs">++</text>
<text x="511.69" y="82.65" font-size="8" fill="#262626" text-anchor="middle" textLength="7.6" lengthAdjust="spacingAndGlyphs">++</text>
<text x="537.15" y="82.65" font-size="8" fill="#262626" text-anchor="middle">+</text>
<text x="562.61" y="82.65" font-size="8" fill="#262626" text-anchor="middle" textLength="12.3" lengthAdjust="spacingAndGlyphs">+/−</text>
<text x="588.07" y="82.65" font-size="8" fill="#262626" text-anchor="middle" textLength="12.3" lengthAdjust="spacingAndGlyphs">+/−</text>
<text x="486.23" y="95.95000000000002" font-size="8" fill="#262626" text-anchor="middle" textLength="12.3" lengthAdjust="spacingAndGlyphs">+/−</text>
<text x="511.69" y="95.95000000000002" font-size="8" fill="#262626" text-anchor="middle" textLength="12.3" lengthAdjust="spacingAndGlyphs">+/−</text>
<text x="537.15" y="95.95000000000002" font-size="8" fill="#262626" text-anchor="middle" textLength="12.3" lengthAdjust="spacingAndGlyphs">+/−</text>
<text x="562.61" y="95.95000000000002" font-size="8" fill="#262626" text-anchor="middle" textLength="12.4" lengthAdjust="spacingAndGlyphs">+++</text>
<text x="588.07" y="95.95000000000002" font-size="8" fill="#262626" text-anchor="middle" textLength="12.4" lengthAdjust="spacingAndGlyphs">+++</text>
<text x="486.23" y="109.25000000000001" font-size="8" fill="#262626" text-anchor="middle">+</text>
<text x="511.69" y="109.25000000000001" font-size="8" fill="#262626" text-anchor="middle">+</text>
<text x="537.15" y="109.25000000000001" font-size="8" fill="#262626" text-anchor="middle" textLength="7.6" lengthAdjust="spacingAndGlyphs">++</text>
<text x="562.61" y="109.25000000000001" font-size="8" fill="#262626" text-anchor="middle" textLength="7.6" lengthAdjust="spacingAndGlyphs">++</text>
<text x="588.07" y="109.25000000000001" font-size="8" fill="#262626" text-anchor="middle">+</text>
<text x="486.23" y="122.55000000000001" font-size="8" fill="#262626" text-anchor="middle" textLength="12.3" lengthAdjust="spacingAndGlyphs">+/−</text>
<text x="511.69" y="122.55000000000001" font-size="8" fill="#262626" text-anchor="middle" textLength="7.6" lengthAdjust="spacingAndGlyphs">++</text>
<text x="537.15" y="122.55000000000001" font-size="8" fill="#262626" text-anchor="middle" textLength="7.6" lengthAdjust="spacingAndGlyphs">++</text>
<text x="562.61" y="122.55000000000001" font-size="8" fill="#262626" text-anchor="middle">+</text>
<text x="588.07" y="122.55000000000001" font-size="8" fill="#262626" text-anchor="middle" textLength="12.3" lengthAdjust="spacingAndGlyphs">+/−</text>
<text x="486.23" y="135.85000000000002" font-size="8" fill="#262626" text-anchor="middle" textLength="12.3" lengthAdjust="spacingAndGlyphs">+/−</text>
<text x="511.69" y="135.85000000000002" font-size="8" fill="#262626" text-anchor="middle">–</text>
<text x="537.15" y="135.85000000000002" font-size="8" fill="#262626" text-anchor="middle">+</text>
<text x="562.61" y="135.85000000000002" font-size="8" fill="#262626" text-anchor="middle" textLength="7.6" lengthAdjust="spacingAndGlyphs">++</text>
<text x="588.07" y="135.85000000000002" font-size="8" fill="#262626" text-anchor="middle" textLength="12.4" lengthAdjust="spacingAndGlyphs">+++</text>
<text x="486.23" y="149.15" font-size="8" fill="#262626" text-anchor="middle" textLength="12.3" lengthAdjust="spacingAndGlyphs">+/−</text>
<text x="511.69" y="149.15" font-size="8" fill="#262626" text-anchor="middle" textLength="7.6" lengthAdjust="spacingAndGlyphs">++</text>
<text x="537.15" y="149.15" font-size="8" fill="#262626" text-anchor="middle" textLength="7.6" lengthAdjust="spacingAndGlyphs">++</text>
<text x="562.61" y="149.15" font-size="8" fill="#262626" text-anchor="middle" textLength="12.3" lengthAdjust="spacingAndGlyphs">+/−</text>
<text x="588.07" y="149.15" font-size="8" fill="#262626" text-anchor="middle">–</text>
<text x="486.23" y="162.45000000000002" font-size="8" fill="#262626" text-anchor="middle" textLength="12.3" lengthAdjust="spacingAndGlyphs">+/−</text>
<text x="511.69" y="162.45000000000002" font-size="8" fill="#262626" text-anchor="middle" textLength="7.6" lengthAdjust="spacingAndGlyphs">++</text>
<text x="537.15" y="162.45000000000002" font-size="8" fill="#262626" text-anchor="middle" textLength="7.6" lengthAdjust="spacingAndGlyphs">++</text>
<text x="562.61" y="162.45000000000002" font-size="8" fill="#262626" text-anchor="middle">+</text>
<text x="588.07" y="162.45000000000002" font-size="8" fill="#262626" text-anchor="middle">+</text>
<text x="605" y="17.25" font-size="8.6" fill="#333">T01 (T<tspan font-size="6.36" dy="2.41">N</tspan><tspan dy="-2.41">)</tspan></text>
<text x="605" y="30.549999999999997" font-size="8.6" fill="#333">T02 (T<tspan font-size="6.36" dy="2.41">CM</tspan><tspan dy="-2.41">)</tspan></text>
<text x="605" y="43.85" font-size="8.6" fill="#333">T03 (T<tspan font-size="6.36" dy="2.41">reg</tspan><tspan dy="-2.41">)</tspan></text>
<text x="605" y="57.150000000000006" font-size="8.6" fill="#333">T04 (T<tspan font-size="6.36" dy="2.41">eff</tspan><tspan dy="-2.41">)</tspan></text>
<text x="605" y="70.45000000000002" font-size="8.6" fill="#333">T05 (T<tspan font-size="6.36" dy="2.41">H</tspan><tspan dy="-2.41">1-like)</tspan></text>
<text x="605" y="83.75000000000001" font-size="8.6" fill="#333">T06 (T<tspan font-size="6.36" dy="2.41">N</tspan><tspan dy="-2.41">)</tspan></text>
<text x="605" y="97.05000000000003" font-size="8.6" fill="#333">T07 (T<tspan font-size="6.36" dy="2.41">EM</tspan><tspan dy="-2.41">-ANXA2)</tspan></text>
<text x="605" y="110.35000000000002" font-size="8.6" fill="#333">T08 (T<tspan font-size="6.36" dy="2.41">EM</tspan><tspan dy="-2.41">-GZMK)</tspan></text>
<text x="605" y="123.65000000000002" font-size="8.6" fill="#333">T09 (T<tspan font-size="6.36" dy="2.41">eff</tspan><tspan dy="-2.41">)</tspan></text>
<text x="605" y="136.95000000000002" font-size="8.6" fill="#333">T10 (T<tspan font-size="6.36" dy="2.41">EX</tspan><tspan dy="-2.41">)</tspan></text>
<text x="605" y="150.25" font-size="8.6" fill="#333">T11 (MAIT)</text>
<text x="605" y="163.55" font-size="8.6" fill="#333">T12 (γδT)</text>
<text x="488.33000000000004" y="171.3" font-size="8.6" fill="#333" text-anchor="end" transform="rotate(-90 488.33000000000004 171.3)">PLN</text>
<text x="513.79" y="171.3" font-size="8.6" fill="#333" text-anchor="end" transform="rotate(-90 513.79 171.3)">PB</text>
<text x="539.25" y="171.3" font-size="8.6" fill="#333" text-anchor="end" transform="rotate(-90 539.25 171.3)">Ascites</text>
<text x="564.71" y="171.3" font-size="8.6" fill="#333" text-anchor="end" transform="rotate(-90 564.71 171.3)">Pri.OT</text>
<text x="590.1700000000001" y="171.3" font-size="8.6" fill="#333" text-anchor="end" transform="rotate(-90 590.1700000000001 171.3)">Met.Ome</text>
<defs><linearGradient id="gb" x1="0" y1="0" x2="0" y2="1"><stop offset="0" stop-color="#ef8a32"/><stop offset="0.5" stop-color="#f6d4b6"/><stop offset="1" stop-color="#d2d3d3"/></linearGradient></defs>
<rect x="660.00" y="21.10" width="8.80" height="38.30" fill="url(#gb)"/>
<text x="658.4" y="13.9" font-size="9" font-style="italic" fill="#333">R<tspan font-size="6.2" dy="2" font-style="normal">o/e</tspan></text>
<text x="671.1" y="26" font-size="7" fill="#333">Max</text>
<text x="671.1" y="59.6" font-size="7" fill="#333">0</text>
<rect x="38.5" y="222.2" width="166.0" height="67.0" fill="none" stroke="#8a8a8a" stroke-width="0.8"/>
<rect x="205.50" y="222.20" width="15.20" height="67.00" fill="#d6d6d6"/>
<text x="215.6" y="255.7" font-size="8.6" fill="#333" text-anchor="middle" transform="rotate(-90 215.6 255.7)">Expa</text>
<line x1="36.50" y1="234.40" x2="38.50" y2="234.40" stroke="#777" stroke-width="0.7"/>
<text x="32.3" y="237.3" font-size="8.2" fill="#3c3c3c" text-anchor="end">0.4</text>
<line x1="36.50" y1="247.60" x2="38.50" y2="247.60" stroke="#777" stroke-width="0.7"/>
<text x="32.3" y="250.5" font-size="8.2" fill="#3c3c3c" text-anchor="end">0.3</text>
<line x1="36.50" y1="260.40" x2="38.50" y2="260.40" stroke="#777" stroke-width="0.7"/>
<text x="32.3" y="263.29999999999995" font-size="8.2" fill="#3c3c3c" text-anchor="end">0.2</text>
<line x1="36.50" y1="273.30" x2="38.50" y2="273.30" stroke="#777" stroke-width="0.7"/>
<text x="32.3" y="276.2" font-size="8.2" fill="#3c3c3c" text-anchor="end">0.1</text>
<line x1="36.50" y1="286.40" x2="38.50" y2="286.40" stroke="#777" stroke-width="0.7"/>
<text x="32.3" y="289.29999999999995" font-size="8.2" fill="#3c3c3c" text-anchor="end">0</text>
<line x1="45.00" y1="286.40" x2="70.80" y2="286.40" stroke="#e04b35" stroke-width="1.1"/>
<line x1="89.80" y1="277.70" x2="89.80" y2="280.30" stroke="#e04b35" stroke-width="1.05"/>
<line x1="89.80" y1="286.80" x2="89.80" y2="286.80" stroke="#e04b35" stroke-width="1.05"/>
<rect x="76.90" y="280.3" width="25.8" height="6.50" fill="none" stroke="#e04b35" stroke-width="1.05"/>
<line x1="76.90" y1="284.60" x2="102.70" y2="284.60" stroke="#e04b35" stroke-width="1.05"/>
<line x1="121.80" y1="262.70" x2="121.80" y2="270.20" stroke="#e04b35" stroke-width="1.05"/>
<line x1="121.80" y1="279.80" x2="121.80" y2="282.50" stroke="#e04b35" stroke-width="1.05"/>
<rect x="108.90" y="270.2" width="25.8" height="9.60" fill="none" stroke="#e04b35" stroke-width="1.05"/>
<line x1="108.90" y1="277.60" x2="134.70" y2="277.60" stroke="#e04b35" stroke-width="1.05"/>
<line x1="153.50" y1="238.40" x2="153.50" y2="257.70" stroke="#e04b35" stroke-width="1.05"/>
<line x1="153.50" y1="271.50" x2="153.50" y2="279.20" stroke="#e04b35" stroke-width="1.05"/>
<rect x="140.60" y="257.7" width="25.8" height="13.80" fill="none" stroke="#e04b35" stroke-width="1.05"/>
<line x1="140.60" y1="267.50" x2="166.40" y2="267.50" stroke="#e04b35" stroke-width="1.05"/>
<line x1="185.50" y1="256.60" x2="185.50" y2="266.20" stroke="#e04b35" stroke-width="1.05"/>
<line x1="185.50" y1="280.30" x2="185.50" y2="284.60" stroke="#e04b35" stroke-width="1.05"/>
<rect x="172.60" y="266.2" width="25.8" height="14.10" fill="none" stroke="#e04b35" stroke-width="1.05"/>
<line x1="172.60" y1="278.10" x2="198.40" y2="278.10" stroke="#e04b35" stroke-width="1.05"/>
<circle cx="55.5" cy="286.4" r="1.35" fill="#e04b35"/>
<circle cx="57.5" cy="286.4" r="1.35" fill="#e04b35"/>
<circle cx="59.5" cy="286.4" r="1.35" fill="#e04b35"/>
<circle cx="86.7" cy="278.1" r="1.35" fill="#e04b35"/>
<circle cx="90" cy="279" r="1.35" fill="#e04b35"/>
<circle cx="88.5" cy="281.8" r="1.35" fill="#e04b35"/>
<circle cx="88" cy="286.2" r="1.35" fill="#e04b35"/>
<circle cx="90.7" cy="286.2" r="1.35" fill="#e04b35"/>
<circle cx="89.5" cy="284" r="1.35" fill="#e04b35"/>
<circle cx="91.5" cy="283.5" r="1.35" fill="#e04b35"/>
<circle cx="118.7" cy="265.4" r="1.35" fill="#e04b35"/>
<circle cx="122.8" cy="262.7" r="1.35" fill="#e04b35"/>
<circle cx="121.3" cy="267.6" r="1.35" fill="#e04b35"/>
<circle cx="120.2" cy="273" r="1.35" fill="#e04b35"/>
<circle cx="119" cy="278.5" r="1.35" fill="#e04b35"/>
<circle cx="123.5" cy="279" r="1.35" fill="#e04b35"/>
<circle cx="119" cy="282.9" r="1.35" fill="#e04b35"/>
<circle cx="122" cy="278" r="1.35" fill="#e04b35"/>
<circle cx="154.2" cy="238.6" r="1.35" fill="#e04b35"/>
<circle cx="151.5" cy="257.7" r="1.35" fill="#e04b35"/>
<circle cx="155.9" cy="267.6" r="1.35" fill="#e04b35"/>
<circle cx="154.6" cy="272" r="1.35" fill="#e04b35"/>
<circle cx="150.9" cy="279.2" r="1.35" fill="#e04b35"/>
<circle cx="154" cy="278.6" r="1.35" fill="#e04b35"/>
<circle cx="153.1" cy="225.3" r="1.35" fill="#e04b35"/>
<circle cx="185.9" cy="256.6" r="1.35" fill="#e04b35"/>
<circle cx="182.6" cy="263.6" r="1.35" fill="#e04b35"/>
<circle cx="186.6" cy="266.7" r="1.35" fill="#e04b35"/>
<circle cx="186" cy="270.2" r="1.35" fill="#e04b35"/>
<circle cx="183.7" cy="277.4" r="1.35" fill="#e04b35"/>
<circle cx="186" cy="279.2" r="1.35" fill="#e04b35"/>
<circle cx="184.8" cy="281.3" r="1.35" fill="#e04b35"/>
<circle cx="184.4" cy="284.6" r="1.35" fill="#e04b35"/>
<text x="151.5" y="229.9" font-size="11" fill="#333" text-anchor="middle">***</text>
<text x="184.4" y="259.90000000000003" font-size="11" fill="#333" text-anchor="middle">***</text>
<rect x="38.5" y="294.6" width="166.0" height="67.5" fill="none" stroke="#8a8a8a" stroke-width="0.8"/>
<rect x="205.50" y="294.60" width="15.20" height="67.50" fill="#d6d6d6"/>
<text x="215.6" y="328.35" font-size="8.6" fill="#333" text-anchor="middle" transform="rotate(-90 215.6 328.35)">Migr</text>
<line x1="36.50" y1="297.30" x2="38.50" y2="297.30" stroke="#777" stroke-width="0.7"/>
<text x="32.3" y="300.2" font-size="8.2" fill="#3c3c3c" text-anchor="end">1.5</text>
<line x1="36.50" y1="317.40" x2="38.50" y2="317.40" stroke="#777" stroke-width="0.7"/>
<text x="32.3" y="320.29999999999995" font-size="8.2" fill="#3c3c3c" text-anchor="end">1.0</text>
<line x1="36.50" y1="338.10" x2="38.50" y2="338.10" stroke="#777" stroke-width="0.7"/>
<text x="32.3" y="341.0" font-size="8.2" fill="#3c3c3c" text-anchor="end">0.5</text>
<line x1="36.50" y1="358.90" x2="38.50" y2="358.90" stroke="#777" stroke-width="0.7"/>
<text x="32.3" y="361.79999999999995" font-size="8.2" fill="#3c3c3c" text-anchor="end">0</text>
<line x1="45.00" y1="358.90" x2="70.80" y2="358.90" stroke="#2ea9cd" stroke-width="1.1"/>
<line x1="89.80" y1="317.90" x2="89.80" y2="325.60" stroke="#2ea9cd" stroke-width="1.05"/>
<line x1="89.80" y1="350.20" x2="89.80" y2="358.90" stroke="#2ea9cd" stroke-width="1.05"/>
<rect x="76.90" y="325.6" width="25.8" height="24.60" fill="none" stroke="#2ea9cd" stroke-width="1.05"/>
<line x1="76.90" y1="336.90" x2="102.70" y2="336.90" stroke="#2ea9cd" stroke-width="1.05"/>
<line x1="121.80" y1="340.50" x2="121.80" y2="342.70" stroke="#2ea9cd" stroke-width="1.05"/>
<line x1="121.80" y1="346.30" x2="121.80" y2="350.00" stroke="#2ea9cd" stroke-width="1.05"/>
<rect x="108.90" y="342.7" width="25.8" height="3.60" fill="none" stroke="#2ea9cd" stroke-width="1.05"/>
<line x1="108.90" y1="344.30" x2="134.70" y2="344.30" stroke="#2ea9cd" stroke-width="1.05"/>
<line x1="153.50" y1="297.80" x2="153.50" y2="320.20" stroke="#2ea9cd" stroke-width="1.05"/>
<line x1="153.50" y1="345.20" x2="153.50" y2="358.00" stroke="#2ea9cd" stroke-width="1.05"/>
<rect x="140.60" y="320.2" width="25.8" height="25.00" fill="none" stroke="#2ea9cd" stroke-width="1.05"/>
<line x1="140.60" y1="332.80" x2="166.40" y2="332.80" stroke="#2ea9cd" stroke-width="1.05"/>
<line x1="185.50" y1="326.00" x2="185.50" y2="334.60" stroke="#2ea9cd" stroke-width="1.05"/>
<line x1="185.50" y1="347.00" x2="185.50" y2="358.00" stroke="#2ea9cd" stroke-width="1.05"/>
<rect x="172.60" y="334.6" width="25.8" height="12.40" fill="none" stroke="#2ea9cd" stroke-width="1.05"/>
<line x1="172.60" y1="344.70" x2="198.40" y2="344.70" stroke="#2ea9cd" stroke-width="1.05"/>
<circle cx="55.5" cy="358.9" r="1.35" fill="#2ea9cd"/>
<circle cx="57.5" cy="358.9" r="1.35" fill="#2ea9cd"/>
<circle cx="59.5" cy="358.9" r="1.35" fill="#2ea9cd"/>
<circle cx="88.8" cy="317.9" r="1.35" fill="#2ea9cd"/>
<circle cx="90.2" cy="326.2" r="1.35" fill="#2ea9cd"/>
<circle cx="86.7" cy="334" r="1.35" fill="#2ea9cd"/>
<circle cx="91.5" cy="337.2" r="1.35" fill="#2ea9cd"/>
<circle cx="88.5" cy="345.4" r="1.35" fill="#2ea9cd"/>
<circle cx="90" cy="350.7" r="1.35" fill="#2ea9cd"/>
<circle cx="88.5" cy="353.3" r="1.35" fill="#2ea9cd"/>
<circle cx="91" cy="358.9" r="1.35" fill="#2ea9cd"/>
<circle cx="119.2" cy="323.3" r="1.35" fill="#2ea9cd"/>
<circle cx="118.2" cy="326.6" r="1.35" fill="#2ea9cd"/>
<circle cx="118" cy="342.5" r="1.35" fill="#2ea9cd"/>
<circle cx="120.4" cy="350" r="1.35" fill="#2ea9cd"/>
<circle cx="120.5" cy="355.8" r="1.35" fill="#2ea9cd"/>
<circle cx="120" cy="345.2" r="1.35" fill="#2ea9cd"/>
<circle cx="122" cy="344" r="1.35" fill="#2ea9cd"/>
<circle cx="152.9" cy="297.8" r="1.35" fill="#2ea9cd"/>
<circle cx="155.7" cy="307.8" r="1.35" fill="#2ea9cd"/>
<circle cx="155.1" cy="320.2" r="1.35" fill="#2ea9cd"/>
<circle cx="153.8" cy="328.8" r="1.35" fill="#2ea9cd"/>
<circle cx="153" cy="332.8" r="1.35" fill="#2ea9cd"/>
<circle cx="152" cy="345.2" r="1.35" fill="#2ea9cd"/>
<circle cx="155.7" cy="353.4" r="1.35" fill="#2ea9cd"/>
<circle cx="152.6" cy="358" r="1.35" fill="#2ea9cd"/>
<circle cx="185.8" cy="327" r="1.35" fill="#2ea9cd"/>
<circle cx="187.6" cy="334.6" r="1.35" fill="#2ea9cd"/>
<circle cx="182.1" cy="336.6" r="1.35" fill="#2ea9cd"/>
<circle cx="184.3" cy="344.3" r="1.35" fill="#2ea9cd"/>
<circle cx="184.9" cy="348" r="1.35" fill="#2ea9cd"/>
<circle cx="184" cy="357.6" r="1.35" fill="#2ea9cd"/>
<circle cx="185.8" cy="350.7" r="1.35" fill="#2ea9cd"/>
<text x="154.5" y="302.90000000000003" font-size="11" fill="#333" text-anchor="middle">***</text>
<rect x="38.5" y="367.4" width="166.0" height="67.10000000000002" fill="none" stroke="#8a8a8a" stroke-width="0.8"/>
<rect x="205.50" y="367.40" width="15.20" height="67.10" fill="#d6d6d6"/>
<text x="215.6" y="400.95" font-size="8.6" fill="#333" text-anchor="middle" transform="rotate(-90 215.6 400.95)">Tran</text>
<line x1="36.50" y1="383.10" x2="38.50" y2="383.10" stroke="#777" stroke-width="0.7"/>
<text x="32.3" y="386.0" font-size="8.2" fill="#3c3c3c" text-anchor="end">1.0</text>
<line x1="36.50" y1="407.30" x2="38.50" y2="407.30" stroke="#777" stroke-width="0.7"/>
<text x="32.3" y="410.2" font-size="8.2" fill="#3c3c3c" text-anchor="end">0.5</text>
<line x1="36.50" y1="431.30" x2="38.50" y2="431.30" stroke="#777" stroke-width="0.7"/>
<text x="32.3" y="434.2" font-size="8.2" fill="#3c3c3c" text-anchor="end">0</text>
<line x1="45.00" y1="431.30" x2="70.80" y2="431.30" stroke="#119b82" stroke-width="1.1"/>
<line x1="89.80" y1="404.10" x2="89.80" y2="404.10" stroke="#119b82" stroke-width="1.05"/>
<line x1="89.80" y1="411.30" x2="89.80" y2="411.30" stroke="#119b82" stroke-width="1.05"/>
<rect x="76.90" y="404.1" width="25.8" height="7.20" fill="none" stroke="#119b82" stroke-width="1.05"/>
<line x1="76.90" y1="405.90" x2="102.70" y2="405.90" stroke="#119b82" stroke-width="1.05"/>
<line x1="121.80" y1="398.30" x2="121.80" y2="412.00" stroke="#119b82" stroke-width="1.05"/>
<line x1="121.80" y1="421.10" x2="121.80" y2="425.70" stroke="#119b82" stroke-width="1.05"/>
<rect x="108.90" y="412" width="25.8" height="9.10" fill="none" stroke="#119b82" stroke-width="1.05"/>
<line x1="108.90" y1="420.20" x2="134.70" y2="420.20" stroke="#119b82" stroke-width="1.05"/>
<line x1="153.50" y1="369.10" x2="153.50" y2="384.60" stroke="#119b82" stroke-width="1.05"/>
<line x1="153.50" y1="406.00" x2="153.50" y2="414.40" stroke="#119b82" stroke-width="1.05"/>
<rect x="140.60" y="384.6" width="25.8" height="21.40" fill="none" stroke="#119b82" stroke-width="1.05"/>
<line x1="140.60" y1="396.00" x2="166.40" y2="396.00" stroke="#119b82" stroke-width="1.05"/>
<line x1="185.50" y1="402.90" x2="185.50" y2="407.80" stroke="#119b82" stroke-width="1.05"/>
<line x1="185.50" y1="421.70" x2="185.50" y2="423.90" stroke="#119b82" stroke-width="1.05"/>
<rect x="172.60" y="407.8" width="25.8" height="13.90" fill="none" stroke="#119b82" stroke-width="1.05"/>
<line x1="172.60" y1="418.00" x2="198.40" y2="418.00" stroke="#119b82" stroke-width="1.05"/>
<circle cx="55.5" cy="431.3" r="1.35" fill="#119b82"/>
<circle cx="57.5" cy="431.3" r="1.35" fill="#119b82"/>
<circle cx="59.5" cy="431.3" r="1.35" fill="#119b82"/>
<circle cx="91.5" cy="383.3" r="1.35" fill="#119b82"/>
<circle cx="88.5" cy="403.4" r="1.35" fill="#119b82"/>
<circle cx="89.3" cy="406.4" r="1.35" fill="#119b82"/>
<circle cx="90.2" cy="411.7" r="1.35" fill="#119b82"/>
<circle cx="86.4" cy="415.5" r="1.35" fill="#119b82"/>
<circle cx="90" cy="428.3" r="1.35" fill="#119b82"/>
<circle cx="91" cy="404.5" r="1.35" fill="#119b82"/>
<circle cx="119.2" cy="398.3" r="1.35" fill="#119b82"/>
<circle cx="123.7" cy="405.3" r="1.35" fill="#119b82"/>
<circle cx="121.5" cy="412.9" r="1.35" fill="#119b82"/>
<circle cx="120" cy="420.2" r="1.35" fill="#119b82"/>
<circle cx="122.5" cy="425.7" r="1.35" fill="#119b82"/>
<circle cx="121" cy="424.5" r="1.35" fill="#119b82"/>
<circle cx="153.8" cy="369.1" r="1.35" fill="#119b82"/>
<circle cx="156.2" cy="383.4" r="1.35" fill="#119b82"/>
<circle cx="152.9" cy="392.8" r="1.35" fill="#119b82"/>
<circle cx="151.1" cy="396.1" r="1.35" fill="#119b82"/>
<circle cx="152.9" cy="407.1" r="1.35" fill="#119b82"/>
<circle cx="153.8" cy="414.4" r="1.35" fill="#119b82"/>
<circle cx="185.8" cy="403.2" r="1.35" fill="#119b82"/>
<circle cx="184.9" cy="408" r="1.35" fill="#119b82"/>
<circle cx="185" cy="412.4" r="1.35" fill="#119b82"/>
<circle cx="188.5" cy="418" r="1.35" fill="#119b82"/>
<circle cx="183.9" cy="420.2" r="1.35" fill="#119b82"/>
<circle cx="183" cy="423" r="1.35" fill="#119b82"/>
<circle cx="186.7" cy="423.9" r="1.35" fill="#119b82"/>
<text x="154.7" y="373" font-size="8.6" fill="#333" text-anchor="middle">ns</text>
<line x1="57.90" y1="434.50" x2="57.90" y2="436.80" stroke="#777" stroke-width="0.7"/>
<line x1="89.80" y1="434.50" x2="89.80" y2="436.80" stroke="#777" stroke-width="0.7"/>
<line x1="121.80" y1="434.50" x2="121.80" y2="436.80" stroke="#777" stroke-width="0.7"/>
<line x1="153.50" y1="434.50" x2="153.50" y2="436.80" stroke="#777" stroke-width="0.7"/>
<line x1="185.50" y1="434.50" x2="185.50" y2="436.80" stroke="#777" stroke-width="0.7"/>
<text x="60.9" y="440.5" font-size="8.5" fill="#333" text-anchor="end" transform="rotate(-90 60.9 440.5)">T06 (T<tspan font-size="6.29" dy="2.38">N</tspan><tspan dy="-2.38">)</tspan></text>
<text x="92.8" y="440.5" font-size="8.5" fill="#333" text-anchor="end" transform="rotate(-90 92.8 440.5)">T07 (T<tspan font-size="6.29" dy="2.38">EM</tspan><tspan dy="-2.38">-ANXA2)</tspan></text>
<text x="124.8" y="440.5" font-size="8.5" fill="#333" text-anchor="end" transform="rotate(-90 124.8 440.5)">T08 (T<tspan font-size="6.29" dy="2.38">EM</tspan><tspan dy="-2.38">-GZMK)</tspan></text>
<text x="156.5" y="440.5" font-size="8.5" fill="#333" text-anchor="end" transform="rotate(-90 156.5 440.5)">T09 (T<tspan font-size="6.29" dy="2.38">eff</tspan><tspan dy="-2.38">)</tspan></text>
<text x="188.5" y="440.5" font-size="8.5" fill="#333" text-anchor="end" transform="rotate(-90 188.5 440.5)">T10 (T<tspan font-size="6.29" dy="2.38">EX</tspan><tspan dy="-2.38">)</tspan></text>
<text x="14.6" y="328.3" font-size="8.6" fill="#333" text-anchor="middle" transform="rotate(-90 14.6 328.3)" textLength="67.4" lengthAdjust="spacingAndGlyphs">STARTRAC-index</text>
<line x1="384.40" y1="257.90" x2="288.40" y2="298.10" stroke="#8a8a8a" stroke-width="0.5"/>
<line x1="384.40" y1="257.90" x2="369.80" y2="400.50" stroke="#8a8a8a" stroke-width="0.5"/>
<line x1="290.60" y1="388.80" x2="384.40" y2="257.90" stroke="#333" stroke-width="0.7"/>
<line x1="288.40" y1="298.10" x2="369.80" y2="400.50" stroke="#333" stroke-width="0.7"/>
<line x1="288.40" y1="298.10" x2="290.60" y2="388.80" stroke="#222" stroke-width="2.0"/>
<line x1="288.40" y1="298.10" x2="358.10" y2="324.40" stroke="#222" stroke-width="1.9"/>
<line x1="358.10" y1="324.40" x2="290.60" y2="388.80" stroke="#222" stroke-width="2.0"/>
<line x1="358.10" y1="324.40" x2="384.40" y2="257.90" stroke="#222" stroke-width="2.2"/>
<line x1="358.10" y1="324.40" x2="369.80" y2="400.50" stroke="#222" stroke-width="1.7"/>
<line x1="290.60" y1="388.80" x2="369.80" y2="400.50" stroke="#222" stroke-width="1.7"/>
<circle cx="384.4" cy="257.9" r="7.5" fill="#8cbde5"/>
<circle cx="288.4" cy="298.1" r="6.4" fill="#bb1a43"/>
<circle cx="358.1" cy="324.4" r="10" fill="#b8aa7c"/>
<circle cx="290.6" cy="388.8" r="7.4" fill="#0d7d4e"/>
<circle cx="369.8" cy="400.5" r="7.4" fill="#f2c4cc"/>
<text x="356.8" y="245.1" font-size="8.2" fill="#333">T06 (T<tspan font-size="6.07" dy="2.30">N</tspan><tspan dy="-2.30">)</tspan></text>
<text x="262.7" y="286.4" font-size="8.2" fill="#333">T07 (T<tspan font-size="6.07" dy="2.30">EM</tspan><tspan dy="-2.30">-ANXA2)</tspan></text>
<text x="370" y="329.3" font-size="8.2" fill="#333">T08 (T<tspan font-size="6.07" dy="2.30">EM</tspan><tspan dy="-2.30">-GZMK)</tspan></text>
<text x="271.2" y="406.2" font-size="8.2" fill="#333">T10 (T<tspan font-size="6.07" dy="2.30">EX</tspan><tspan dy="-2.30">)</tspan></text>
<text x="380.4" y="408" font-size="8.2" fill="#333">T09 (T<tspan font-size="6.07" dy="2.30">eff</tspan><tspan dy="-2.30">)</tspan></text>
<rect x="472.40" y="263.50" width="25.82" height="21.58" fill="#1265a5" stroke="#a9a9a9" stroke-width="0.6"/>
<rect x="498.22" y="263.50" width="25.82" height="21.58" fill="#b8353b" stroke="#a9a9a9" stroke-width="0.6"/>
<rect x="524.04" y="263.50" width="25.82" height="21.58" fill="#efb49b" stroke="#a9a9a9" stroke-width="0.6"/>
<rect x="549.86" y="263.50" width="25.82" height="21.58" fill="#f5e1d4" stroke="#a9a9a9" stroke-width="0.6"/>
<rect x="575.68" y="263.50" width="25.82" height="21.58" fill="#1265a5" stroke="#a9a9a9" stroke-width="0.6"/>
<rect x="472.40" y="285.08" width="25.82" height="21.58" fill="#b8353b" stroke="#a9a9a9" stroke-width="0.6"/>
<rect x="498.22" y="285.08" width="25.82" height="21.58" fill="#1265a5" stroke="#a9a9a9" stroke-width="0.6"/>
<rect x="524.04" y="285.08" width="25.82" height="21.58" fill="#efb49b" stroke="#a9a9a9" stroke-width="0.6"/>
<rect x="549.86" y="285.08" width="25.82" height="21.58" fill="#dfe6ee" stroke="#a9a9a9" stroke-width="0.6"/>
<rect x="575.68" y="285.08" width="25.82" height="21.58" fill="#1265a5" stroke="#a9a9a9" stroke-width="0.6"/>
<rect x="472.40" y="306.66" width="25.82" height="21.58" fill="#efb49b" stroke="#a9a9a9" stroke-width="0.6"/>
<rect x="498.22" y="306.66" width="25.82" height="21.58" fill="#efb49b" stroke="#a9a9a9" stroke-width="0.6"/>
<rect x="524.04" y="306.66" width="25.82" height="21.58" fill="#1265a5" stroke="#a9a9a9" stroke-width="0.6"/>
<rect x="549.86" y="306.66" width="25.82" height="21.58" fill="#8dbcd8" stroke="#a9a9a9" stroke-width="0.6"/>
<rect x="575.68" y="306.66" width="25.82" height="21.58" fill="#1265a5" stroke="#a9a9a9" stroke-width="0.6"/>
<rect x="472.40" y="328.24" width="25.82" height="21.58" fill="#f5e1d4" stroke="#a9a9a9" stroke-width="0.6"/>
<rect x="498.22" y="328.24" width="25.82" height="21.58" fill="#dfe6ee" stroke="#a9a9a9" stroke-width="0.6"/>
<rect x="524.04" y="328.24" width="25.82" height="21.58" fill="#8dbcd8" stroke="#a9a9a9" stroke-width="0.6"/>
<rect x="549.86" y="328.24" width="25.82" height="21.58" fill="#1265a5" stroke="#a9a9a9" stroke-width="0.6"/>
<rect x="575.68" y="328.24" width="25.82" height="21.58" fill="#1265a5" stroke="#a9a9a9" stroke-width="0.6"/>
<rect x="472.40" y="349.82" width="25.82" height="21.58" fill="#1265a5" stroke="#a9a9a9" stroke-width="0.6"/>
<rect x="498.22" y="349.82" width="25.82" height="21.58" fill="#1265a5" stroke="#a9a9a9" stroke-width="0.6"/>
<rect x="524.04" y="349.82" width="25.82" height="21.58" fill="#1265a5" stroke="#a9a9a9" stroke-width="0.6"/>
<rect x="549.86" y="349.82" width="25.82" height="21.58" fill="#1265a5" stroke="#a9a9a9" stroke-width="0.6"/>
<rect x="575.68" y="349.82" width="25.82" height="21.58" fill="#1265a5" stroke="#a9a9a9" stroke-width="0.6"/>
<rect x="472.4" y="263.5" width="129.10" height="21.58" fill="none" stroke="#c8203c" stroke-width="1"/>
<rect x="549.86" y="263.5" width="25.82" height="107.90" fill="none" stroke="#c8203c" stroke-width="1"/>
<defs><linearGradient id="ge" x1="0" y1="0" x2="1" y2="0">
<stop offset="0" stop-color="#1d5fa3"/><stop offset="0.12" stop-color="#2f79b6"/><stop offset="0.25" stop-color="#7fb1d6"/>
<stop offset="0.4" stop-color="#f4f4f4"/><stop offset="0.55" stop-color="#f6c9b0"/><stop offset="0.7" stop-color="#df8a72"/>
<stop offset="0.82" stop-color="#c23d42"/><stop offset="1" stop-color="#b01a33"/></linearGradient></defs>
<rect x="472.20" y="251.90" width="128.50" height="8.40" fill="url(#ge)"/>
<line x1="477.30" y1="251.90" x2="477.30" y2="253.60" stroke="#fff" stroke-width="0.8"/>
<line x1="477.30" y1="258.60" x2="477.30" y2="260.30" stroke="#fff" stroke-width="0.8"/>
<line x1="517.80" y1="251.90" x2="517.80" y2="253.60" stroke="#fff" stroke-width="0.8"/>
<line x1="517.80" y1="258.60" x2="517.80" y2="260.30" stroke="#fff" stroke-width="0.8"/>
<line x1="557.00" y1="251.90" x2="557.00" y2="253.60" stroke="#fff" stroke-width="0.8"/>
<line x1="557.00" y1="258.60" x2="557.00" y2="260.30" stroke="#fff" stroke-width="0.8"/>
<line x1="596.70" y1="251.90" x2="596.70" y2="253.60" stroke="#fff" stroke-width="0.8"/>
<line x1="596.70" y1="258.60" x2="596.70" y2="260.30" stroke="#fff" stroke-width="0.8"/>
<text x="477.3" y="248.4" font-size="7.2" fill="#444" text-anchor="middle">0</text>
<text x="517.8" y="248.4" font-size="7.2" fill="#444" text-anchor="middle">0.1</text>
<text x="557" y="248.4" font-size="7.2" fill="#444" text-anchor="middle">0.2</text>
<text x="596.7" y="248.4" font-size="7.2" fill="#444" text-anchor="middle">0.3</text>
<text x="537" y="236.2" font-size="8.6" fill="#333" text-anchor="middle">Shared TCR</text>
<text x="607" y="257.5" font-size="8.6" fill="#333">PIndex.tran</text>
<text x="607" y="279.89000000000004" font-size="8.6" fill="#333">T08 (T<tspan font-size="6.36" dy="2.41">EM</tspan><tspan dy="-2.41">-GZMK)</tspan></text>
<text x="607" y="301.47" font-size="8.6" fill="#333">T09 (T<tspan font-size="6.36" dy="2.41">eff</tspan><tspan dy="-2.41">)</tspan></text>
<text x="607" y="323.05" font-size="8.6" fill="#333">T07 (T<tspan font-size="6.36" dy="2.41">EM</tspan><tspan dy="-2.41">-ANXA2)</tspan></text>
<text x="607" y="344.63000000000005" font-size="8.6" fill="#333">T10 (T<tspan font-size="6.36" dy="2.41">EX</tspan><tspan dy="-2.41">)</tspan></text>
<text x="607" y="366.21000000000004" font-size="8.6" fill="#333">T06 (T<tspan font-size="6.36" dy="2.41">N</tspan><tspan dy="-2.41">)</tspan></text>
<text x="486.8" y="377.2" font-size="8.4" fill="#333" text-anchor="end" transform="rotate(-90 486.8 377.2)">T08 (T<tspan font-size="6.22" dy="2.35">EM</tspan><tspan dy="-2.35">-GZMK)</tspan></text>
<text x="516.2" y="377.2" font-size="8.4" fill="#333" text-anchor="end" transform="rotate(-90 516.2 377.2)">T09 (T<tspan font-size="6.22" dy="2.35">eff</tspan><tspan dy="-2.35">)</tspan></text>
<text x="540" y="377.2" font-size="8.4" fill="#333" text-anchor="end" transform="rotate(-90 540 377.2)">T07 (T<tspan font-size="6.22" dy="2.35">EM</tspan><tspan dy="-2.35">-ANXA2)</tspan></text>
<text x="567.4" y="377.2" font-size="8.4" fill="#333" text-anchor="end" transform="rotate(-90 567.4 377.2)">T10 (T<tspan font-size="6.22" dy="2.35">EX</tspan><tspan dy="-2.35">)</tspan></text>
<text x="596" y="377.2" font-size="8.4" fill="#333" text-anchor="end" transform="rotate(-90 596 377.2)">T06 (T<tspan font-size="6.22" dy="2.35">N</tspan><tspan dy="-2.35">)</tspan></text>
<line x1="41.40" y1="558.80" x2="41.40" y2="688.00" stroke="#888" stroke-width="0.8"/>
<line x1="41.40" y1="688.00" x2="124.30" y2="688.00" stroke="#888" stroke-width="0.8"/>
<line x1="39.20" y1="688.00" x2="41.40" y2="688.00" stroke="#888" stroke-width="0.7"/>
<text x="35.8" y="690.9" font-size="8.2" fill="#3c3c3c" text-anchor="end">0</text>
<line x1="39.20" y1="655.60" x2="41.40" y2="655.60" stroke="#888" stroke-width="0.7"/>
<text x="35.8" y="658.5" font-size="8.2" fill="#3c3c3c" text-anchor="end">0.1</text>
<line x1="39.20" y1="623.30" x2="41.40" y2="623.30" stroke="#888" stroke-width="0.7"/>
<text x="35.8" y="626.1999999999999" font-size="8.2" fill="#3c3c3c" text-anchor="end">0.2</text>
<line x1="39.20" y1="591.20" x2="41.40" y2="591.20" stroke="#888" stroke-width="0.7"/>
<text x="35.8" y="594.1" font-size="8.2" fill="#3c3c3c" text-anchor="end">0.3</text>
<line x1="39.20" y1="558.80" x2="41.40" y2="558.80" stroke="#888" stroke-width="0.7"/>
<text x="35.8" y="561.6999999999999" font-size="8.2" fill="#3c3c3c" text-anchor="end">0.4</text>
<rect x="46.10" y="608.90" width="7.00" height="79.10" fill="#ad5f75"/>
<line x1="49.60" y1="688.00" x2="49.60" y2="690.00" stroke="#888" stroke-width="0.6"/>
<rect x="57.90" y="654.50" width="7.00" height="33.50" fill="#ad5f75"/>
<line x1="61.40" y1="688.00" x2="61.40" y2="690.00" stroke="#888" stroke-width="0.6"/>
<rect x="69.80" y="623.20" width="7.00" height="64.80" fill="#ad5f75"/>
<line x1="73.30" y1="688.00" x2="73.30" y2="690.00" stroke="#888" stroke-width="0.6"/>
<rect x="89.80" y="587.90" width="7.00" height="100.10" fill="#aca88c"/>
<line x1="93.30" y1="688.00" x2="93.30" y2="690.00" stroke="#888" stroke-width="0.6"/>
<rect x="101.50" y="665.50" width="7.00" height="22.50" fill="#aca88c"/>
<line x1="105.00" y1="688.00" x2="105.00" y2="690.00" stroke="#888" stroke-width="0.6"/>
<rect x="113.30" y="638.90" width="7.00" height="49.10" fill="#aca88c"/>
<line x1="116.80" y1="688.00" x2="116.80" y2="690.00" stroke="#888" stroke-width="0.6"/>
<text x="49.6" y="700" font-size="7.6" fill="#333" text-anchor="middle">AS</text>
<text x="61.4" y="700" font-size="7.6" fill="#333" text-anchor="middle">MT</text>
<text x="73.3" y="700" font-size="7.6" fill="#333" text-anchor="middle">PT</text>
<text x="93.3" y="700" font-size="7.6" fill="#333" text-anchor="middle">AS</text>
<text x="105.0" y="700" font-size="7.6" fill="#333" text-anchor="middle">MT</text>
<text x="116.8" y="700" font-size="7.6" fill="#333" text-anchor="middle">PT</text>
<line x1="40.80" y1="703.40" x2="124.30" y2="703.40" stroke="#555" stroke-width="0.9"/>
<text x="82.55" y="714.8" font-size="8.6" fill="#333" text-anchor="middle">T08 (T<tspan font-size="6.36" dy="2.41">EM</tspan><tspan dy="-2.41">-GZMK)</tspan></text>
<text x="83.5" y="553.7" font-size="8.8" fill="#333" text-anchor="middle" textLength="38.0" lengthAdjust="spacingAndGlyphs">T08–T07</text>
<rect x="75.90" y="562.00" width="8.10" height="5.30" fill="#ad5f75"/>
<text x="90.10000000000001" y="567.6" font-size="8.6" fill="#333">T07-MT</text>
<rect x="75.90" y="572.30" width="8.10" height="5.30" fill="#aca88c"/>
<text x="90.10000000000001" y="577.9" font-size="8.6" fill="#333">T07-PT</text>
<line x1="148.80" y1="558.40" x2="148.80" y2="688.00" stroke="#888" stroke-width="0.8"/>
<line x1="148.80" y1="688.00" x2="232.40" y2="688.00" stroke="#888" stroke-width="0.8"/>
<line x1="146.60" y1="687.60" x2="148.80" y2="687.60" stroke="#888" stroke-width="0.7"/>
<text x="143.20000000000002" y="690.5" font-size="8.2" fill="#3c3c3c" text-anchor="end">0</text>
<line x1="146.60" y1="655.20" x2="148.80" y2="655.20" stroke="#888" stroke-width="0.7"/>
<text x="143.20000000000002" y="658.1" font-size="8.2" fill="#3c3c3c" text-anchor="end">0.1</text>
<line x1="146.60" y1="622.70" x2="148.80" y2="622.70" stroke="#888" stroke-width="0.7"/>
<text x="143.20000000000002" y="625.6" font-size="8.2" fill="#3c3c3c" text-anchor="end">0.2</text>
<line x1="146.60" y1="590.50" x2="148.80" y2="590.50" stroke="#888" stroke-width="0.7"/>
<text x="143.20000000000002" y="593.4" font-size="8.2" fill="#3c3c3c" text-anchor="end">0.3</text>
<line x1="146.60" y1="558.40" x2="148.80" y2="558.40" stroke="#888" stroke-width="0.7"/>
<text x="143.20000000000002" y="561.3" font-size="8.2" fill="#3c3c3c" text-anchor="end">0.4</text>
<rect x="153.80" y="581.80" width="7.00" height="106.20" fill="#ad5f75"/>
<line x1="157.30" y1="688.00" x2="157.30" y2="690.00" stroke="#888" stroke-width="0.6"/>
<rect x="165.50" y="622.20" width="7.00" height="65.80" fill="#ad5f75"/>
<line x1="169.00" y1="688.00" x2="169.00" y2="690.00" stroke="#888" stroke-width="0.6"/>
<rect x="177.30" y="675.00" width="7.00" height="13.00" fill="#ad5f75"/>
<line x1="180.80" y1="688.00" x2="180.80" y2="690.00" stroke="#888" stroke-width="0.6"/>
<rect x="196.90" y="627.70" width="7.00" height="60.30" fill="#aca88c"/>
<line x1="200.40" y1="688.00" x2="200.40" y2="690.00" stroke="#888" stroke-width="0.6"/>
<rect x="209.20" y="684.00" width="7.00" height="4.00" fill="#aca88c"/>
<line x1="212.70" y1="688.00" x2="212.70" y2="690.00" stroke="#888" stroke-width="0.6"/>
<rect x="221.00" y="648.80" width="7.00" height="39.20" fill="#aca88c"/>
<line x1="224.50" y1="688.00" x2="224.50" y2="690.00" stroke="#888" stroke-width="0.6"/>
<text x="157.3" y="700" font-size="7.6" fill="#333" text-anchor="middle">AS</text>
<text x="169.0" y="700" font-size="7.6" fill="#333" text-anchor="middle">MT</text>
<text x="180.8" y="700" font-size="7.6" fill="#333" text-anchor="middle">PT</text>
<text x="200.4" y="700" font-size="7.6" fill="#333" text-anchor="middle">AS</text>
<text x="212.7" y="700" font-size="7.6" fill="#333" text-anchor="middle">MT</text>
<text x="224.5" y="700" font-size="7.6" fill="#333" text-anchor="middle">PT</text>
<line x1="149.40" y1="703.40" x2="232.40" y2="703.40" stroke="#555" stroke-width="0.9"/>
<text x="190.9" y="714.8" font-size="8.6" fill="#333" text-anchor="middle">T08 (T<tspan font-size="6.36" dy="2.41">EM</tspan><tspan dy="-2.41">-GZMK)</tspan></text>
<text x="191.65" y="553.7" font-size="8.8" fill="#333" text-anchor="middle" textLength="33.3" lengthAdjust="spacingAndGlyphs">T08–T10</text>
<rect x="198.20" y="562.00" width="8.10" height="5.30" fill="#ad5f75"/>
<text x="212.39999999999998" y="567.6" font-size="8.6" fill="#333">T10-MT</text>
<rect x="198.20" y="572.30" width="8.10" height="5.30" fill="#aca88c"/>
<text x="212.39999999999998" y="577.9" font-size="8.6" fill="#333">T10-PT</text>
<text x="8.2" y="624" font-size="8.5" fill="#333" text-anchor="middle" transform="rotate(-90 8.2 624)" textLength="108.8" lengthAdjust="spacingAndGlyphs">Proportions of shared TCRs</text>
<text x="18.8" y="624.8" font-size="8.5" fill="#333" text-anchor="middle" transform="rotate(-90 18.8 624.8)" textLength="149.6" lengthAdjust="spacingAndGlyphs">corrected by T07 (or T10) cell number</text>
<line x1="300.70" y1="490.20" x2="300.70" y2="563.30" stroke="#888" stroke-width="0.8"/>
<line x1="300.70" y1="563.30" x2="353.20" y2="563.30" stroke="#888" stroke-width="0.8"/>
<line x1="298.50" y1="563.30" x2="300.70" y2="563.30" stroke="#888" stroke-width="0.7"/>
<text x="294.6" y="566.1999999999999" font-size="8.2" fill="#3c3c3c" text-anchor="end">0</text>
<line x1="298.50" y1="539.00" x2="300.70" y2="539.00" stroke="#888" stroke-width="0.7"/>
<text x="294.6" y="541.9" font-size="8.2" fill="#3c3c3c" text-anchor="end">0.02</text>
<line x1="298.50" y1="514.70" x2="300.70" y2="514.70" stroke="#888" stroke-width="0.7"/>
<text x="294.6" y="517.6" font-size="8.2" fill="#3c3c3c" text-anchor="end">0.04</text>
<line x1="298.50" y1="490.20" x2="300.70" y2="490.20" stroke="#888" stroke-width="0.7"/>
<text x="294.6" y="493.09999999999997" font-size="8.2" fill="#3c3c3c" text-anchor="end">0.06</text>
<rect x="306.90" y="496.40" width="10.10" height="66.90" fill="#ad5f75"/>
<rect x="333.90" y="529.00" width="10.10" height="34.30" fill="#aca88c"/>
<line x1="311.90" y1="563.30" x2="311.90" y2="565.30" stroke="#888" stroke-width="0.6"/>
<line x1="338.90" y1="563.30" x2="338.90" y2="565.30" stroke="#888" stroke-width="0.6"/>
<text x="311.5" y="574.1" font-size="7.6" fill="#333" text-anchor="middle">MT</text>
<text x="338.6" y="574.1" font-size="7.6" fill="#333" text-anchor="middle">PT</text>
<line x1="299.50" y1="577.40" x2="353.50" y2="577.40" stroke="#555" stroke-width="0.9"/>

<text x="326.79999999999995" y="482.1" font-size="8.8" fill="#333" text-anchor="middle" textLength="78.8" lengthAdjust="spacingAndGlyphs">T08 in ascites-T07</text>
<text x="324.9" y="586.5" font-size="8.6" fill="#333" text-anchor="middle">T07 (T<tspan font-size="6.36" dy="2.41">CM</tspan><tspan dy="-2.41">-ANXA2)</tspan></text>
<line x1="300.70" y1="616.00" x2="300.70" y2="689.10" stroke="#888" stroke-width="0.8"/>
<line x1="300.70" y1="689.10" x2="353.20" y2="689.10" stroke="#888" stroke-width="0.8"/>
<line x1="298.50" y1="689.10" x2="300.70" y2="689.10" stroke="#888" stroke-width="0.7"/>
<text x="294.6" y="692.0" font-size="8.2" fill="#3c3c3c" text-anchor="end">0</text>
<line x1="298.50" y1="664.60" x2="300.70" y2="664.60" stroke="#888" stroke-width="0.7"/>
<text x="294.6" y="667.5" font-size="8.2" fill="#3c3c3c" text-anchor="end">0.05</text>
<line x1="298.50" y1="640.30" x2="300.70" y2="640.30" stroke="#888" stroke-width="0.7"/>
<text x="294.6" y="643.1999999999999" font-size="8.2" fill="#3c3c3c" text-anchor="end">0.10</text>
<line x1="298.50" y1="616.00" x2="300.70" y2="616.00" stroke="#888" stroke-width="0.7"/>
<text x="294.6" y="618.9" font-size="8.2" fill="#3c3c3c" text-anchor="end">0.15</text>
<rect x="306.90" y="628.00" width="10.10" height="61.10" fill="#ad5f75"/>
<rect x="333.90" y="674.50" width="10.10" height="14.60" fill="#aca88c"/>
<line x1="311.90" y1="689.10" x2="311.90" y2="691.10" stroke="#888" stroke-width="0.6"/>
<line x1="338.90" y1="689.10" x2="338.90" y2="691.10" stroke="#888" stroke-width="0.6"/>
<text x="311.5" y="699.7" font-size="7.6" fill="#333" text-anchor="middle">MT</text>
<text x="338.6" y="699.7" font-size="7.6" fill="#333" text-anchor="middle">PT</text>
<line x1="299.50" y1="703.90" x2="353.50" y2="703.90" stroke="#555" stroke-width="0.9"/>

<text x="326.85" y="609" font-size="8.8" fill="#333" text-anchor="middle" textLength="76.9" lengthAdjust="spacingAndGlyphs">T08 in ascites-T10</text>
<text x="325.9" y="715.3" font-size="8.6" fill="#333" text-anchor="middle">T10 (T<tspan font-size="6.36" dy="2.41">EX</tspan><tspan dy="-2.41">)</tspan></text>
<text x="261" y="589.3" font-size="8.5" fill="#333" text-anchor="middle" transform="rotate(-90 261 589.3)" textLength="163" lengthAdjust="spacingAndGlyphs">Proportions of shared TCRs corrected by</text>
<text x="270.6" y="590.6" font-size="8.5" fill="#333" text-anchor="middle" transform="rotate(-90 270.6 590.6)" textLength="63.4" lengthAdjust="spacingAndGlyphs">T08 cell number</text>
<rect x="408.20" y="477.70" width="100.92" height="210.80" fill="#d6d7d9"/>
<rect x="408.20" y="477.70" width="16.87" height="210.80" fill="#eef1c8"/>
<rect x="408.20" y="477.70" width="16.87" height="1.40" fill="#e0262e"/>
<rect x="408.20" y="479.10" width="16.87" height="2.90" fill="#f08a46"/>
<rect x="408.20" y="482.00" width="16.87" height="3.00" fill="#f3aa55"/>
<rect x="408.20" y="485.00" width="16.87" height="3.50" fill="#f5e19c"/>
<rect x="408.20" y="506.20" width="16.87" height="1.30" fill="#7b0b2b"/>
<rect x="408.20" y="507.50" width="16.87" height="2.00" fill="#ec5d3c"/>
<rect x="408.20" y="509.50" width="16.87" height="6.80" fill="#f4cc78"/>
<rect x="408.20" y="534.70" width="16.87" height="1.10" fill="#7b0b2b"/>
<rect x="408.20" y="535.80" width="16.87" height="3.20" fill="#f08a46"/>
<rect x="408.20" y="539.00" width="16.87" height="4.50" fill="#f3aa55"/>
<rect x="408.20" y="543.50" width="16.87" height="10.20" fill="#f5e19c"/>
<rect x="408.20" y="591.00" width="16.87" height="1.50" fill="#ec5d3c"/>
<rect x="408.20" y="592.50" width="16.87" height="2.50" fill="#f3aa55"/>
<rect x="408.20" y="595.00" width="16.87" height="2.00" fill="#f5e19c"/>
<rect x="408.20" y="599.00" width="16.87" height="1.00" fill="#f5e19c"/>
<rect x="408.20" y="604.60" width="16.87" height="3.40" fill="#7b0b2b"/>
<rect x="408.20" y="608.00" width="16.87" height="1.00" fill="#e0262e"/>
<rect x="408.20" y="609.00" width="16.87" height="2.00" fill="#f08a46"/>
<rect x="408.20" y="611.00" width="16.87" height="3.00" fill="#f4cc78"/>
<rect x="408.20" y="617.00" width="16.87" height="2.00" fill="#f5e19c"/>
<rect x="408.20" y="619.00" width="16.87" height="2.00" fill="#f08a46"/>
<rect x="408.20" y="621.00" width="16.87" height="5.00" fill="#f3aa55"/>
<rect x="408.20" y="626.00" width="16.87" height="2.00" fill="#f5e19c"/>
<rect x="408.20" y="630.00" width="16.87" height="2.00" fill="#7b0b2b"/>
<rect x="408.20" y="632.00" width="16.87" height="1.50" fill="#e0262e"/>
<rect x="408.20" y="633.50" width="16.87" height="1.50" fill="#ec5d3c"/>
<rect x="408.20" y="635.00" width="16.87" height="2.00" fill="#f3aa55"/>
<rect x="408.20" y="637.00" width="16.87" height="3.00" fill="#f5e19c"/>
<rect x="408.20" y="644.80" width="16.87" height="1.00" fill="#f08a46"/>
<rect x="408.20" y="650.30" width="16.87" height="1.00" fill="#e0262e"/>
<rect x="408.20" y="655.50" width="16.87" height="3.50" fill="#7b0b2b"/>
<rect x="408.20" y="659.00" width="16.87" height="1.00" fill="#ec5d3c"/>
<rect x="408.20" y="660.00" width="16.87" height="1.50" fill="#f4cc78"/>
<rect x="408.20" y="661.50" width="16.87" height="1.00" fill="#f08a46"/>
<rect x="408.20" y="662.50" width="16.87" height="1.90" fill="#f5e19c"/>
<rect x="408.20" y="664.50" width="16.87" height="2.50" fill="#7b0b2b"/>
<rect x="408.20" y="670.00" width="16.87" height="1.20" fill="#f5e19c"/>
<rect x="408.20" y="672.50" width="16.87" height="2.50" fill="#e0262e"/>
<rect x="408.20" y="675.00" width="16.87" height="1.00" fill="#f08a46"/>
<rect x="408.20" y="676.00" width="16.87" height="2.00" fill="#f5e19c"/>
<rect x="408.20" y="680.00" width="16.87" height="2.00" fill="#c07a58"/>
<rect x="408.20" y="682.00" width="16.87" height="1.00" fill="#f4cc78"/>
<rect x="408.20" y="683.00" width="16.87" height="3.00" fill="#7b0b2b"/>
<rect x="408.20" y="686.00" width="16.87" height="2.50" fill="#c0405a"/>
<rect x="425.02" y="477.70" width="16.87" height="28.50" fill="#eef1c8"/>
<rect x="425.02" y="591.00" width="16.87" height="13.60" fill="#eef1c8"/>
<rect x="425.02" y="630.00" width="16.87" height="15.80" fill="#eef1c8"/>
<rect x="425.02" y="655.10" width="16.87" height="9.30" fill="#eef1c8"/>
<rect x="425.02" y="671.20" width="16.87" height="1.20" fill="#eef1c8"/>
<rect x="425.02" y="477.70" width="16.87" height="0.80" fill="#f5e19c"/>
<rect x="425.02" y="485.50" width="16.87" height="2.50" fill="#f5e19c"/>
<rect x="425.02" y="591.00" width="16.87" height="1.00" fill="#f08a46"/>
<rect x="425.02" y="592.00" width="16.87" height="4.00" fill="#f5e19c"/>
<rect x="425.02" y="630.00" width="16.87" height="1.50" fill="#f3aa55"/>
<rect x="425.02" y="633.00" width="16.87" height="1.00" fill="#f08a46"/>
<rect x="425.02" y="637.00" width="16.87" height="1.00" fill="#f08a46"/>
<rect x="425.02" y="638.00" width="16.87" height="2.00" fill="#f5e19c"/>
<rect x="425.02" y="641.00" width="16.87" height="1.00" fill="#f4cc78"/>
<rect x="425.02" y="651.00" width="16.87" height="1.00" fill="#f3aa55"/>
<rect x="425.02" y="655.10" width="16.87" height="1.90" fill="#7b0b2b"/>
<rect x="425.02" y="657.00" width="16.87" height="1.00" fill="#ec5d3c"/>
<rect x="425.02" y="658.00" width="16.87" height="2.00" fill="#f5e19c"/>
<rect x="425.02" y="661.00" width="16.87" height="1.00" fill="#f08a46"/>
<rect x="425.02" y="678.80" width="16.87" height="3.40" fill="#c8906a"/>
<rect x="425.02" y="686.40" width="16.87" height="2.10" fill="#f08a46"/>
<rect x="441.84" y="506.20" width="16.87" height="28.50" fill="#eef1c8"/>
<rect x="441.84" y="604.60" width="16.87" height="14.30" fill="#eef1c8"/>
<rect x="441.84" y="651.40" width="16.87" height="3.70" fill="#eef1c8"/>
<rect x="441.84" y="672.00" width="16.87" height="16.50" fill="#eef1c8"/>
<rect x="441.84" y="508.50" width="16.87" height="2.00" fill="#f5e19c"/>
<rect x="441.84" y="604.60" width="16.87" height="1.90" fill="#f5e19c"/>
<rect x="441.84" y="606.50" width="16.87" height="2.50" fill="#f3aa55"/>
<rect x="441.84" y="612.00" width="16.87" height="3.00" fill="#f5e19c"/>
<rect x="441.84" y="615.50" width="16.87" height="1.50" fill="#f3aa55"/>
<rect x="441.84" y="651.40" width="16.87" height="3.70" fill="#f5e19c"/>
<rect x="441.84" y="672.00" width="16.87" height="3.00" fill="#f4cc78"/>
<rect x="441.84" y="675.00" width="16.87" height="2.00" fill="#f3aa55"/>
<rect x="441.84" y="677.00" width="16.87" height="3.00" fill="#f5e19c"/>
<rect x="441.84" y="683.00" width="16.87" height="3.00" fill="#f5e19c"/>
<rect x="458.66" y="534.70" width="16.87" height="56.20" fill="#eef1c8"/>
<rect x="458.66" y="618.90" width="16.87" height="11.10" fill="#eef1c8"/>
<rect x="458.66" y="645.80" width="16.87" height="5.60" fill="#eef1c8"/>
<rect x="458.66" y="664.40" width="16.87" height="6.80" fill="#eef1c8"/>
<rect x="458.66" y="674.00" width="16.87" height="14.50" fill="#eef1c8"/>
<rect x="458.66" y="534.70" width="16.87" height="1.80" fill="#e0262e"/>
<rect x="458.66" y="539.50" width="16.87" height="1.50" fill="#ec5d3c"/>
<rect x="458.66" y="543.50" width="16.87" height="2.00" fill="#b5172f"/>
<rect x="458.66" y="553.50" width="16.87" height="2.50" fill="#7b0b2b"/>
<rect x="458.66" y="556.00" width="16.87" height="2.00" fill="#b5172f"/>
<rect x="458.66" y="558.00" width="16.87" height="2.00" fill="#e0262e"/>
<rect x="458.66" y="560.00" width="16.87" height="2.00" fill="#ec5d3c"/>
<rect x="458.66" y="562.00" width="16.87" height="2.00" fill="#f08a46"/>
<rect x="458.66" y="564.00" width="16.87" height="2.00" fill="#f3aa55"/>
<rect x="458.66" y="566.00" width="16.87" height="5.80" fill="#f5e19c"/>
<rect x="458.66" y="619.00" width="16.87" height="3.00" fill="#f3aa55"/>
<rect x="458.66" y="622.00" width="16.87" height="4.00" fill="#c07448"/>
<rect x="458.66" y="626.00" width="16.87" height="2.00" fill="#f5e19c"/>
<rect x="458.66" y="628.00" width="16.87" height="1.50" fill="#f08a46"/>
<rect x="458.66" y="645.80" width="16.87" height="2.20" fill="#7b0b2b"/>
<rect x="458.66" y="652.50" width="16.87" height="1.00" fill="#b5172f"/>
<rect x="458.66" y="664.40" width="16.87" height="1.60" fill="#f5e19c"/>
<rect x="458.66" y="667.00" width="16.87" height="1.50" fill="#b5172f"/>
<rect x="458.66" y="668.50" width="16.87" height="1.50" fill="#f5e19c"/>
<rect x="458.66" y="674.50" width="16.87" height="1.50" fill="#b04848"/>
<rect x="458.66" y="679.50" width="16.87" height="2.50" fill="#b06585"/>
<rect x="458.66" y="684.00" width="16.87" height="4.50" fill="#7b0b2b"/>
<rect x="475.48" y="591.00" width="16.87" height="39.00" fill="#eef1c8"/>
<rect x="475.48" y="655.10" width="16.87" height="16.10" fill="#eef1c8"/>
<rect x="475.48" y="674.00" width="16.87" height="14.50" fill="#eef1c8"/>
<rect x="475.48" y="591.00" width="16.87" height="2.50" fill="#7b0b2b"/>
<rect x="475.48" y="594.50" width="16.87" height="1.00" fill="#b5172f"/>
<rect x="475.48" y="597.00" width="16.87" height="1.00" fill="#f08a46"/>
<rect x="475.48" y="598.00" width="16.87" height="4.50" fill="#f5e19c"/>
<rect x="475.48" y="604.60" width="16.87" height="1.40" fill="#f5e19c"/>
<rect x="475.48" y="606.00" width="16.87" height="1.00" fill="#f08a46"/>
<rect x="475.48" y="609.00" width="16.87" height="1.50" fill="#b5172f"/>
<rect x="475.48" y="612.50" width="16.87" height="1.50" fill="#b05545"/>
<rect x="475.48" y="614.00" width="16.87" height="4.90" fill="#f5e19c"/>
<rect x="475.48" y="621.00" width="16.87" height="2.00" fill="#f3aa55"/>
<rect x="475.48" y="622.50" width="16.87" height="1.00" fill="#e87060"/>
<rect x="475.48" y="623.50" width="16.87" height="1.50" fill="#f5e19c"/>
<rect x="475.48" y="655.10" width="16.87" height="3.90" fill="#7b0b2b"/>
<rect x="475.48" y="659.00" width="16.87" height="2.00" fill="#f08a46"/>
<rect x="475.48" y="661.00" width="16.87" height="3.00" fill="#f5e19c"/>
<rect x="475.48" y="664.40" width="16.87" height="3.60" fill="#f5e19c"/>
<rect x="475.48" y="671.50" width="16.87" height="2.50" fill="#7b0b2b"/>
<rect x="475.48" y="676.00" width="16.87" height="2.00" fill="#f5e19c"/>
<rect x="475.48" y="678.00" width="16.87" height="2.00" fill="#f4cc78"/>
<rect x="475.48" y="681.00" width="16.87" height="2.00" fill="#b06070"/>
<rect x="475.48" y="683.00" width="16.87" height="3.00" fill="#7b0b2b"/>
<rect x="475.48" y="686.00" width="16.87" height="2.50" fill="#b06585"/>
<rect x="492.30" y="630.00" width="16.87" height="21.40" fill="#eef1c8"/>
<rect x="492.30" y="655.10" width="16.87" height="16.10" fill="#eef1c8"/>
<rect x="492.30" y="678.00" width="16.87" height="10.50" fill="#eef1c8"/>
<rect x="492.30" y="630.00" width="16.87" height="2.00" fill="#f3aa55"/>
<rect x="492.30" y="632.00" width="16.87" height="2.00" fill="#f5e19c"/>
<rect x="492.30" y="636.00" width="16.87" height="1.00" fill="#f5e19c"/>
<rect x="492.30" y="640.00" width="16.87" height="1.00" fill="#ec5d3c"/>
<rect x="492.30" y="641.00" width="16.87" height="2.00" fill="#f5e19c"/>
<rect x="492.30" y="655.10" width="16.87" height="0.90" fill="#b5172f"/>
<rect x="492.30" y="656.00" width="16.87" height="2.00" fill="#f5e19c"/>
<rect x="492.30" y="659.00" width="16.87" height="1.00" fill="#f3aa55"/>
<rect x="492.30" y="662.00" width="16.87" height="1.00" fill="#f5e19c"/>
<rect x="492.30" y="667.00" width="16.87" height="1.50" fill="#e0262e"/>
<rect x="492.30" y="668.50" width="16.87" height="1.50" fill="#f5e19c"/>
<rect x="492.30" y="678.00" width="16.87" height="2.00" fill="#f5e19c"/>
<rect x="492.30" y="680.00" width="16.87" height="2.00" fill="#c07a58"/>
<rect x="492.30" y="682.00" width="16.87" height="2.00" fill="#f4cc78"/>
<rect x="492.30" y="684.00" width="16.87" height="2.00" fill="#f3aa55"/>
<rect x="492.30" y="686.00" width="16.87" height="2.50" fill="#f4cc78"/>
<rect x="399.00" y="477.70" width="4.40" height="28.50" fill="#13998a"/>
<rect x="399.00" y="506.20" width="4.40" height="28.50" fill="#1aaed8"/>
<rect x="399.00" y="534.70" width="4.40" height="56.20" fill="#e24d3c"/>
<rect x="399.00" y="590.90" width="4.40" height="13.70" fill="#2d5d98"/>
<rect x="399.00" y="604.60" width="4.40" height="14.30" fill="#ee8a2a"/>
<rect x="399.00" y="618.90" width="4.40" height="11.10" fill="#8fc0e8"/>
<rect x="399.00" y="630.00" width="4.40" height="15.80" fill="#c0154a"/>
<rect x="399.00" y="645.80" width="4.40" height="5.60" fill="#c4b48a"/>
<rect x="399.00" y="651.40" width="4.40" height="3.70" fill="#0b8a5c"/>
<rect x="399.00" y="655.10" width="4.40" height="9.30" fill="#dc8aa6"/>
<rect x="399.00" y="664.40" width="4.40" height="6.80" fill="#0c6fb7"/>
<rect x="399.00" y="671.20" width="4.40" height="1.30" fill="#ee8a2a"/>
<rect x="399.00" y="672.50" width="4.40" height="5.50" fill="#a8305a"/>
<rect x="399.00" y="678.00" width="4.40" height="2.00" fill="#c0c030"/>
<rect x="399.00" y="680.00" width="4.40" height="3.00" fill="#5a9a40"/>
<rect x="399.00" y="683.00" width="4.40" height="3.00" fill="#e07020"/>
<rect x="399.00" y="686.00" width="4.40" height="2.50" fill="#505050"/>
<text x="458.3" y="473.8" font-size="9.1" fill="#333" text-anchor="middle" textLength="112.6" lengthAdjust="spacingAndGlyphs">Ascites—metastatic tumor</text>
<text x="419.61" y="692.5" font-size="8.4" fill="#333" text-anchor="end" transform="rotate(-90 419.61 692.5)">AS_T08</text>
<text x="436.43" y="692.5" font-size="8.4" fill="#333" text-anchor="end" transform="rotate(-90 436.43 692.5)">MT_T07</text>
<text x="453.25" y="692.5" font-size="8.4" fill="#333" text-anchor="end" transform="rotate(-90 453.25 692.5)">MT_T08</text>
<text x="470.07" y="692.5" font-size="8.4" fill="#333" text-anchor="end" transform="rotate(-90 470.07 692.5)">MT_T10</text>
<text x="486.89" y="692.5" font-size="8.4" fill="#333" text-anchor="end" transform="rotate(-90 486.89 692.5)">PB_CD8<tspan font-size="5.6" dy="-3">+</tspan><tspan dy="3"> T</tspan></text>
<text x="503.71" y="692.5" font-size="8.4" fill="#333" text-anchor="end" transform="rotate(-90 503.71 692.5)">LN_CD8<tspan font-size="5.6" dy="-3">+</tspan><tspan dy="3"> T</tspan></text>
<rect x="552.60" y="477.70" width="101.28" height="210.80" fill="#d6d7d9"/>
<rect x="552.60" y="477.70" width="16.93" height="210.80" fill="#eef1c8"/>
<rect x="552.60" y="477.70" width="16.93" height="3.80" fill="#ec5d3c"/>
<rect x="552.60" y="481.50" width="16.93" height="2.50" fill="#f3aa55"/>
<rect x="552.60" y="484.00" width="16.93" height="3.50" fill="#f4cc78"/>
<rect x="552.60" y="499.90" width="16.93" height="8.60" fill="#7b0b2b"/>
<rect x="552.60" y="508.50" width="16.93" height="1.50" fill="#b5172f"/>
<rect x="552.60" y="510.00" width="16.93" height="6.00" fill="#ec5d3c"/>
<rect x="552.60" y="516.00" width="16.93" height="5.00" fill="#f08a46"/>
<rect x="552.60" y="521.00" width="16.93" height="6.00" fill="#f3aa55"/>
<rect x="552.60" y="527.00" width="16.93" height="3.00" fill="#f4cc78"/>
<rect x="552.60" y="530.00" width="16.93" height="2.00" fill="#f3aa55"/>
<rect x="552.60" y="532.00" width="16.93" height="12.70" fill="#f5e19c"/>
<rect x="552.60" y="566.80" width="16.93" height="2.20" fill="#7b0b2b"/>
<rect x="552.60" y="569.00" width="16.93" height="3.00" fill="#f08a46"/>
<rect x="552.60" y="572.00" width="16.93" height="9.00" fill="#f5e19c"/>
<rect x="552.60" y="615.80" width="16.93" height="2.20" fill="#ec5d3c"/>
<rect x="552.60" y="618.00" width="16.93" height="2.00" fill="#f08a46"/>
<rect x="552.60" y="620.00" width="16.93" height="3.00" fill="#f3aa55"/>
<rect x="552.60" y="623.00" width="16.93" height="3.00" fill="#f5e19c"/>
<rect x="552.60" y="630.00" width="16.93" height="3.00" fill="#f5e19c"/>
<rect x="552.60" y="634.00" width="16.93" height="2.00" fill="#f5e19c"/>
<rect x="552.60" y="638.30" width="16.93" height="2.70" fill="#7b0b2b"/>
<rect x="552.60" y="641.00" width="16.93" height="1.50" fill="#f08a46"/>
<rect x="552.60" y="642.50" width="16.93" height="1.50" fill="#f5e19c"/>
<rect x="552.60" y="645.00" width="16.93" height="2.00" fill="#f5e19c"/>
<rect x="552.60" y="647.50" width="16.93" height="1.00" fill="#f08a46"/>
<rect x="552.60" y="651.00" width="16.93" height="1.00" fill="#e0262e"/>
<rect x="552.60" y="652.00" width="16.93" height="4.00" fill="#f4cc78"/>
<rect x="552.60" y="657.30" width="16.93" height="3.20" fill="#7b0b2b"/>
<rect x="552.60" y="660.50" width="16.93" height="1.50" fill="#f5e19c"/>
<rect x="552.60" y="664.00" width="16.93" height="9.50" fill="#7b0b2b"/>
<rect x="552.60" y="673.50" width="16.93" height="3.50" fill="#f5e19c"/>
<rect x="552.60" y="678.00" width="16.93" height="1.50" fill="#e0262e"/>
<rect x="552.60" y="681.00" width="16.93" height="2.00" fill="#7b0b2b"/>
<rect x="552.60" y="685.00" width="16.93" height="3.50" fill="#7b0b2b"/>
<rect x="569.48" y="477.70" width="16.93" height="22.20" fill="#eef1c8"/>
<rect x="569.48" y="615.80" width="16.93" height="14.00" fill="#eef1c8"/>
<rect x="569.48" y="637.50" width="16.93" height="9.50" fill="#eef1c8"/>
<rect x="569.48" y="650.80" width="16.93" height="5.20" fill="#eef1c8"/>
<rect x="569.48" y="664.00" width="16.93" height="24.50" fill="#eef1c8"/>
<rect x="569.48" y="477.70" width="16.93" height="2.30" fill="#f5e19c"/>
<rect x="569.48" y="487.00" width="16.93" height="2.00" fill="#f5e19c"/>
<rect x="569.48" y="615.80" width="16.93" height="1.20" fill="#f3aa55"/>
<rect x="569.48" y="619.00" width="16.93" height="1.50" fill="#f5e19c"/>
<rect x="569.48" y="637.50" width="16.93" height="1.50" fill="#e0262e"/>
<rect x="569.48" y="641.00" width="16.93" height="2.00" fill="#f5e19c"/>
<rect x="569.48" y="643.00" width="16.93" height="1.50" fill="#f5e19c"/>
<rect x="569.48" y="664.00" width="16.93" height="3.00" fill="#f5e19c"/>
<rect x="569.48" y="668.00" width="16.93" height="1.00" fill="#ec5d3c"/>
<rect x="569.48" y="669.00" width="16.93" height="3.00" fill="#f5e19c"/>
<rect x="569.48" y="678.00" width="16.93" height="2.00" fill="#f5e19c"/>
<rect x="569.48" y="682.00" width="16.93" height="2.00" fill="#f5e19c"/>
<rect x="569.48" y="685.50" width="16.93" height="3.00" fill="#7b0b2b"/>
<rect x="586.36" y="499.90" width="16.93" height="66.90" fill="#eef1c8"/>
<rect x="586.36" y="629.80" width="16.93" height="7.00" fill="#eef1c8"/>
<rect x="586.36" y="650.80" width="16.93" height="5.20" fill="#eef1c8"/>
<rect x="586.36" y="657.30" width="16.93" height="6.70" fill="#eef1c8"/>
<rect x="586.36" y="680.00" width="16.93" height="8.50" fill="#eef1c8"/>
<rect x="586.36" y="499.90" width="16.93" height="1.10" fill="#f5e19c"/>
<rect x="586.36" y="509.00" width="16.93" height="1.50" fill="#f5e19c"/>
<rect x="586.36" y="511.00" width="16.93" height="1.50" fill="#b5172f"/>
<rect x="586.36" y="516.50" width="16.93" height="1.50" fill="#f08a46"/>
<rect x="586.36" y="518.00" width="16.93" height="3.00" fill="#f5e19c"/>
<rect x="586.36" y="521.50" width="16.93" height="2.00" fill="#b5172f"/>
<rect x="586.36" y="523.50" width="16.93" height="2.50" fill="#f5e19c"/>
<rect x="586.36" y="530.00" width="16.93" height="2.00" fill="#f5e19c"/>
<rect x="586.36" y="532.00" width="16.93" height="4.50" fill="#f4cc78"/>
<rect x="586.36" y="545.00" width="16.93" height="5.00" fill="#f5e19c"/>
<rect x="586.36" y="631.00" width="16.93" height="1.00" fill="#f5e19c"/>
<rect x="586.36" y="634.00" width="16.93" height="1.00" fill="#f5e19c"/>
<rect x="586.36" y="650.80" width="16.93" height="0.70" fill="#f08a46"/>
<rect x="586.36" y="652.50" width="16.93" height="1.50" fill="#7b0b2b"/>
<rect x="586.36" y="654.00" width="16.93" height="2.00" fill="#f5e19c"/>
<rect x="586.36" y="657.50" width="16.93" height="2.50" fill="#7b0b2b"/>
<rect x="586.36" y="660.00" width="16.93" height="1.00" fill="#f5e19c"/>
<rect x="586.36" y="680.00" width="16.93" height="4.00" fill="#f08a46"/>
<rect x="586.36" y="684.00" width="16.93" height="2.00" fill="#f4cc78"/>
<rect x="603.24" y="566.80" width="16.93" height="49.00" fill="#eef1c8"/>
<rect x="603.24" y="647.00" width="16.93" height="3.80" fill="#eef1c8"/>
<rect x="603.24" y="657.30" width="16.93" height="6.70" fill="#eef1c8"/>
<rect x="603.24" y="676.00" width="16.93" height="12.50" fill="#eef1c8"/>
<rect x="603.24" y="570.50" width="16.93" height="2.00" fill="#f08a46"/>
<rect x="603.24" y="572.50" width="16.93" height="1.00" fill="#f5e19c"/>
<rect x="603.24" y="573.50" width="16.93" height="1.00" fill="#f08a46"/>
<rect x="603.24" y="581.00" width="16.93" height="2.00" fill="#7b0b2b"/>
<rect x="603.24" y="583.00" width="16.93" height="2.00" fill="#f08a46"/>
<rect x="603.24" y="585.00" width="16.93" height="5.00" fill="#f5e19c"/>
<rect x="603.24" y="636.00" width="16.93" height="1.50" fill="#f08a46"/>
<rect x="603.24" y="647.00" width="16.93" height="1.50" fill="#7b0b2b"/>
<rect x="603.24" y="648.50" width="16.93" height="2.30" fill="#f5e19c"/>
<rect x="603.24" y="657.30" width="16.93" height="6.70" fill="#f5e19c"/>
<rect x="603.24" y="678.00" width="16.93" height="4.00" fill="#f5e19c"/>
<rect x="603.24" y="684.00" width="16.93" height="2.00" fill="#f5e19c"/>
<rect x="620.12" y="615.80" width="16.93" height="21.00" fill="#eef1c8"/>
<rect x="620.12" y="664.00" width="16.93" height="15.30" fill="#eef1c8"/>
<rect x="620.12" y="684.50" width="16.93" height="4.00" fill="#eef1c8"/>
<rect x="620.12" y="615.80" width="16.93" height="5.20" fill="#7b0b2b"/>
<rect x="620.12" y="621.00" width="16.93" height="2.50" fill="#b5172f"/>
<rect x="620.12" y="625.00" width="16.93" height="2.00" fill="#f5e19c"/>
<rect x="620.12" y="629.00" width="16.93" height="2.00" fill="#f5e19c"/>
<rect x="620.12" y="631.00" width="16.93" height="1.00" fill="#f3aa55"/>
<rect x="620.12" y="632.00" width="16.93" height="4.80" fill="#f5e19c"/>
<rect x="620.12" y="664.00" width="16.93" height="4.80" fill="#7b0b2b"/>
<rect x="620.12" y="668.80" width="16.93" height="2.20" fill="#f4cc78"/>
<rect x="620.12" y="671.00" width="16.93" height="1.30" fill="#7b0b2b"/>
<rect x="620.12" y="674.00" width="16.93" height="1.50" fill="#b5172f"/>
<rect x="620.12" y="675.50" width="16.93" height="1.70" fill="#f5e19c"/>
<rect x="620.12" y="677.20" width="16.93" height="2.10" fill="#b5172f"/>
<rect x="620.12" y="684.50" width="16.93" height="4.00" fill="#7b0b2b"/>
<rect x="637.00" y="638.30" width="16.93" height="12.50" fill="#eef1c8"/>
<rect x="637.00" y="664.00" width="16.93" height="15.30" fill="#eef1c8"/>
<rect x="637.00" y="640.00" width="16.93" height="3.00" fill="#f4cc78"/>
<rect x="637.00" y="645.70" width="16.93" height="1.30" fill="#b5172f"/>
<rect x="637.00" y="664.00" width="16.93" height="4.80" fill="#f4cc78"/>
<rect x="637.00" y="668.80" width="16.93" height="1.40" fill="#b5172f"/>
<rect x="637.00" y="670.20" width="16.93" height="3.80" fill="#f5e19c"/>
<rect x="637.00" y="674.00" width="16.93" height="3.00" fill="#f3aa55"/>
<rect x="637.00" y="677.00" width="16.93" height="2.30" fill="#f5e19c"/>
<rect x="637.00" y="684.50" width="16.93" height="4.00" fill="#e0262e"/>
<rect x="543.90" y="477.70" width="4.40" height="22.20" fill="#13998a"/>
<rect x="543.90" y="499.90" width="4.40" height="66.90" fill="#1aaed8"/>
<rect x="543.90" y="566.80" width="4.40" height="49.00" fill="#e24d3c"/>
<rect x="543.90" y="615.80" width="4.40" height="14.00" fill="#2d5d98"/>
<rect x="543.90" y="629.80" width="4.40" height="7.00" fill="#ee8a2a"/>
<rect x="543.90" y="636.80" width="4.40" height="1.50" fill="#8fc0e8"/>
<rect x="543.90" y="638.30" width="4.40" height="8.70" fill="#c0154a"/>
<rect x="543.90" y="647.00" width="4.40" height="3.80" fill="#c4b48a"/>
<rect x="543.90" y="650.80" width="4.40" height="5.20" fill="#f2b8c2"/>
<rect x="543.90" y="656.00" width="4.40" height="1.30" fill="#0b8a5c"/>
<rect x="543.90" y="657.30" width="4.40" height="6.70" fill="#dc8aa6"/>
<rect x="543.90" y="664.00" width="4.40" height="13.50" fill="#0c6fb7"/>
<rect x="543.90" y="677.50" width="4.40" height="2.50" fill="#ee8a2a"/>
<rect x="543.90" y="680.00" width="4.40" height="3.00" fill="#a8305a"/>
<rect x="543.90" y="683.00" width="4.40" height="1.50" fill="#c0c030"/>
<rect x="543.90" y="684.50" width="4.40" height="4.00" fill="#a01840"/>
<text x="603.1" y="473.8" font-size="9.1" fill="#333" text-anchor="middle" textLength="100.2" lengthAdjust="spacingAndGlyphs">Ascites—primary tumor</text>
<text x="564.0400000000001" y="692.5" font-size="8.4" fill="#333" text-anchor="end" transform="rotate(-90 564.0400000000001 692.5)">AS_T08</text>
<text x="580.9200000000001" y="692.5" font-size="8.4" fill="#333" text-anchor="end" transform="rotate(-90 580.9200000000001 692.5)">PT_T07</text>
<text x="597.8000000000001" y="692.5" font-size="8.4" fill="#333" text-anchor="end" transform="rotate(-90 597.8000000000001 692.5)">PT_T08</text>
<text x="614.6800000000001" y="692.5" font-size="8.4" fill="#333" text-anchor="end" transform="rotate(-90 614.6800000000001 692.5)">PT_T10</text>
<text x="631.56" y="692.5" font-size="8.4" fill="#333" text-anchor="end" transform="rotate(-90 631.56 692.5)">PB_CD8<tspan font-size="5.6" dy="-3">+</tspan><tspan dy="3"> T</tspan></text>
<text x="648.44" y="692.5" font-size="8.4" fill="#333" text-anchor="end" transform="rotate(-90 648.44 692.5)">LN_CD8<tspan font-size="5.6" dy="-3">+</tspan><tspan dy="3"> T</tspan></text>
<text x="512.1" y="623.9" font-size="7.6" fill="#333">Cells</text>
<rect x="513.40" y="627.40" width="6.10" height="6.00" fill="#7b0b2b"/>
<text x="521.5" y="632.5" font-size="6.3" fill="#3a3a3a">&gt;8</text>
<rect x="513.40" y="633.37" width="6.10" height="6.00" fill="#b5172f"/>
<text x="521.5" y="638.47" font-size="6.3" fill="#3a3a3a">8</text>
<rect x="513.40" y="639.34" width="6.10" height="6.00" fill="#e0262e"/>
<text x="521.5" y="644.44" font-size="6.3" fill="#3a3a3a">7</text>
<rect x="513.40" y="645.31" width="6.10" height="6.00" fill="#ec5d3c"/>
<text x="521.5" y="650.41" font-size="6.3" fill="#3a3a3a">6</text>
<rect x="513.40" y="651.28" width="6.10" height="6.00" fill="#f08a46"/>
<text x="521.5" y="656.38" font-size="6.3" fill="#3a3a3a">5</text>
<rect x="513.40" y="657.25" width="6.10" height="6.00" fill="#f3aa55"/>
<text x="521.5" y="662.35" font-size="6.3" fill="#3a3a3a">4</text>
<rect x="513.40" y="663.22" width="6.10" height="6.00" fill="#f4cc78"/>
<text x="521.5" y="668.32" font-size="6.3" fill="#3a3a3a">3</text>
<rect x="513.40" y="669.19" width="6.10" height="6.00" fill="#f5e19c"/>
<text x="521.5" y="674.29" font-size="6.3" fill="#3a3a3a">2</text>
<rect x="513.40" y="675.16" width="6.10" height="6.00" fill="#eef1c8"/>
<text x="521.5" y="680.26" font-size="6.3" fill="#3a3a3a">1</text>
<rect x="513.40" y="681.13" width="6.10" height="6.00" fill="#d6d7d9"/>
<text x="521.5" y="686.23" font-size="6.3" fill="#3a3a3a">0</text>
<text x="657.2" y="623.9" font-size="7.6" fill="#333">Cells</text>
<rect x="658.50" y="627.40" width="6.10" height="6.00" fill="#7b0b2b"/>
<text x="666.6" y="632.5" font-size="6.3" fill="#3a3a3a">&gt;8</text>
<rect x="658.50" y="633.37" width="6.10" height="6.00" fill="#b5172f"/>
<text x="666.6" y="638.47" font-size="6.3" fill="#3a3a3a">8</text>
<rect x="658.50" y="639.34" width="6.10" height="6.00" fill="#e0262e"/>
<text x="666.6" y="644.44" font-size="6.3" fill="#3a3a3a">7</text>
<rect x="658.50" y="645.31" width="6.10" height="6.00" fill="#ec5d3c"/>
<text x="666.6" y="650.41" font-size="6.3" fill="#3a3a3a">6</text>
<rect x="658.50" y="651.28" width="6.10" height="6.00" fill="#f08a46"/>
<text x="666.6" y="656.38" font-size="6.3" fill="#3a3a3a">5</text>
<rect x="658.50" y="657.25" width="6.10" height="6.00" fill="#f3aa55"/>
<text x="666.6" y="662.35" font-size="6.3" fill="#3a3a3a">4</text>
<rect x="658.50" y="663.22" width="6.10" height="6.00" fill="#f4cc78"/>
<text x="666.6" y="668.32" font-size="6.3" fill="#3a3a3a">3</text>
<rect x="658.50" y="669.19" width="6.10" height="6.00" fill="#f5e19c"/>
<text x="666.6" y="674.29" font-size="6.3" fill="#3a3a3a">2</text>
<rect x="658.50" y="675.16" width="6.10" height="6.00" fill="#eef1c8"/>
<text x="666.6" y="680.26" font-size="6.3" fill="#3a3a3a">1</text>
<rect x="658.50" y="681.13" width="6.10" height="6.00" fill="#d6d7d9"/>
<text x="666.6" y="686.23" font-size="6.3" fill="#3a3a3a">0</text>
</svg></body></html>
